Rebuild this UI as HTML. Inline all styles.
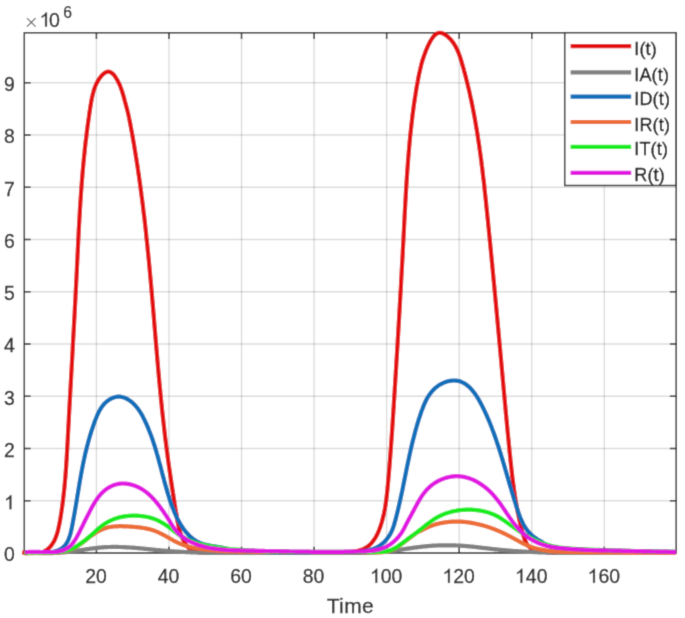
<!DOCTYPE html>
<html><head><meta charset="utf-8"><style>
html,body{margin:0;padding:0;background:#fff;}
svg{display:block;font-family:"Liberation Sans",sans-serif;}
#w{width:685px;height:618px;overflow:hidden;}
</style></head><body>
<div id="w"><svg width="685" height="618" viewBox="0 0 685 618">
<defs><filter id="bl" x="0" y="0" width="685" height="618" filterUnits="userSpaceOnUse"><feConvolveMatrix order="3" kernelMatrix="0.0192 0.1001 0.0192 0.1001 0.5227 0.1001 0.0192 0.1001 0.0192" edgeMode="duplicate" preserveAlpha="true"/></filter></defs>
<g filter="url(#bl)">
<rect width="685" height="618" fill="#fff"/>
<g stroke="#262626" stroke-opacity="0.16" stroke-width="1.35" fill="none"><path d="M96.42,32.7V553.0"/><path d="M168.98,32.7V553.0"/><path d="M241.53,32.7V553.0"/><path d="M314.09,32.7V553.0"/><path d="M386.64,32.7V553.0"/><path d="M459.19,32.7V553.0"/><path d="M531.75,32.7V553.0"/><path d="M604.30,32.7V553.0"/><path d="M24.3,500.75H676.2"/><path d="M24.3,448.50H676.2"/><path d="M24.3,396.25H676.2"/><path d="M24.3,344.00H676.2"/><path d="M24.3,291.75H676.2"/><path d="M24.3,239.50H676.2"/><path d="M24.3,187.25H676.2"/><path d="M24.3,135.00H676.2"/><path d="M24.3,82.75H676.2"/></g>
<path d="M24.3,32.7H676.2V553.0H24.3ZM96.42,553.0v-6.3M96.42,32.7v6.3M168.98,553.0v-6.3M168.98,32.7v6.3M241.53,553.0v-6.3M241.53,32.7v6.3M314.09,553.0v-6.3M314.09,32.7v6.3M386.64,553.0v-6.3M386.64,32.7v6.3M459.19,553.0v-6.3M459.19,32.7v6.3M531.75,553.0v-6.3M531.75,32.7v6.3M604.30,553.0v-6.3M604.30,32.7v6.3M24.3,553.00h6.3M676.2,553.00h-6.3M24.3,500.75h6.3M676.2,500.75h-6.3M24.3,448.50h6.3M676.2,448.50h-6.3M24.3,396.25h6.3M676.2,396.25h-6.3M24.3,344.00h6.3M676.2,344.00h-6.3M24.3,291.75h6.3M676.2,291.75h-6.3M24.3,239.50h6.3M676.2,239.50h-6.3M24.3,187.25h6.3M24.3,135.00h6.3M24.3,82.75h6.3" stroke="#2a2a2a" stroke-width="1.5" fill="none"/>
<path d="M22.2,552.2 L23.1,552.4 L24.0,552.6 L24.9,552.7 L25.7,552.9 L26.5,553.0 L27.4,553.0 L28.2,553.0 L29.3,553.0 L30.5,553.0 L31.6,553.0 L32.7,553.0 L33.8,553.0 L34.8,553.0 L35.8,553.0 L36.8,553.0 L37.7,553.0 L38.6,553.0 L39.5,553.0 L40.4,552.7 L41.2,552.5 L42.0,552.2 L42.8,551.9 L43.6,551.6 L44.3,551.3 L45.0,550.9 L45.9,550.3 L46.8,549.8 L47.7,549.1 L48.5,548.5 L49.2,547.8 L50.0,547.0 L50.6,546.3 L51.3,545.5 L51.9,544.6 L52.5,543.7 L53.1,542.8 L53.5,542.1 L53.9,541.4 L54.3,540.7 L54.6,540.0 L55.0,539.2 L55.3,538.4 L55.6,537.7 L56.0,536.9 L56.2,536.1 L56.5,535.3 L56.8,534.4 L57.1,533.6 L57.3,532.8 L57.6,531.9 L57.8,531.0 L58.0,530.2 L58.2,529.3 L58.4,528.4 L58.6,527.5 L58.8,526.6 L59.0,525.7 L59.2,524.8 L59.4,523.9 L59.6,523.0 L59.7,522.1 L59.9,521.2 L60.1,520.3 L60.2,519.4 L60.4,518.5 L60.5,517.6 L60.7,516.7 L60.8,515.8 L61.0,514.9 L61.1,513.9 L61.2,513.0 L61.4,512.1 L61.5,511.2 L61.6,510.3 L61.8,509.4 L61.9,508.5 L62.0,507.6 L62.2,506.7 L62.3,505.8 L62.4,504.9 L62.5,504.0 L62.6,503.1 L62.8,502.2 L62.9,501.3 L63.0,500.4 L63.1,499.5 L63.2,498.6 L63.3,497.7 L63.4,496.8 L63.5,495.9 L63.6,495.0 L63.7,494.1 L63.8,493.2 L63.9,492.3 L64.0,491.4 L64.1,490.5 L64.2,489.6 L64.3,488.7 L64.4,487.8 L64.5,486.9 L64.6,486.0 L64.6,485.1 L64.7,484.2 L64.8,483.3 L64.9,482.4 L65.0,481.5 L65.0,480.6 L65.1,479.7 L65.2,478.8 L65.3,477.9 L65.4,477.0 L65.4,476.1 L65.5,475.2 L65.6,474.3 L65.6,473.5 L65.7,472.6 L65.8,471.7 L65.8,470.8 L65.9,469.9 L66.0,469.0 L66.0,468.1 L66.1,467.2 L66.2,466.3 L66.2,465.4 L66.3,464.5 L66.3,463.6 L66.4,462.7 L66.4,461.8 L66.5,461.0 L66.6,460.1 L66.6,459.2 L66.7,458.3 L66.7,457.4 L66.8,456.5 L66.8,455.6 L66.9,454.7 L66.9,453.8 L67.0,452.9 L67.0,452.0 L67.1,451.2 L67.1,450.3 L67.2,449.4 L67.2,448.5 L67.3,447.6 L67.3,446.7 L67.4,445.8 L67.4,444.9 L67.5,444.0 L67.5,443.1 L67.6,442.2 L67.6,441.4 L67.7,440.5 L67.7,439.6 L67.8,438.7 L67.8,437.8 L67.9,436.9 L67.9,436.0 L67.9,435.1 L68.0,434.2 L68.0,433.3 L68.1,432.4 L68.1,431.6 L68.2,430.7 L68.2,429.8 L68.3,428.9 L68.3,428.0 L68.4,427.1 L68.4,426.2 L68.5,425.3 L68.5,424.4 L68.6,423.5 L68.6,422.6 L68.7,421.7 L68.7,420.9 L68.8,420.0 L68.8,419.1 L68.8,418.2 L68.9,417.3 L68.9,416.4 L69.0,415.5 L69.0,414.6 L69.1,413.7 L69.1,412.8 L69.2,411.9 L69.2,411.0 L69.3,410.2 L69.3,409.3 L69.4,408.4 L69.4,407.5 L69.5,406.6 L69.5,405.7 L69.6,404.8 L69.6,403.9 L69.7,403.0 L69.7,402.1 L69.8,401.2 L69.8,400.3 L69.9,399.4 L69.9,398.6 L70.0,397.7 L70.0,396.8 L70.1,395.9 L70.1,395.0 L70.2,394.1 L70.2,393.2 L70.3,392.3 L70.3,391.4 L70.4,390.5 L70.4,389.6 L70.5,388.7 L70.5,387.8 L70.6,386.9 L70.6,386.0 L70.7,385.2 L70.7,384.3 L70.8,383.4 L70.8,382.5 L70.9,381.6 L70.9,380.7 L71.0,379.8 L71.0,378.9 L71.1,378.0 L71.1,377.1 L71.2,376.2 L71.2,375.3 L71.3,374.4 L71.3,373.5 L71.4,372.6 L71.4,371.8 L71.5,370.9 L71.5,370.0 L71.6,369.1 L71.6,368.2 L71.7,367.3 L71.7,366.4 L71.8,365.5 L71.8,364.6 L71.9,363.7 L71.9,362.8 L72.0,361.9 L72.0,361.0 L72.1,360.1 L72.1,359.2 L72.2,358.3 L72.2,357.4 L72.3,356.6 L72.3,355.7 L72.4,354.8 L72.4,353.9 L72.5,353.0 L72.5,352.1 L72.6,351.2 L72.6,350.3 L72.7,349.4 L72.7,348.5 L72.7,347.6 L72.8,346.7 L72.8,345.8 L72.9,344.9 L72.9,344.0 L73.0,343.1 L73.0,342.2 L73.1,341.3 L73.1,340.4 L73.2,339.6 L73.2,338.7 L73.3,337.8 L73.3,336.9 L73.4,336.0 L73.4,335.1 L73.5,334.2 L73.5,333.3 L73.6,332.4 L73.6,331.5 L73.7,330.6 L73.7,329.7 L73.8,328.8 L73.8,327.9 L73.9,327.0 L73.9,326.1 L74.0,325.2 L74.0,324.3 L74.1,323.4 L74.1,322.5 L74.2,321.6 L74.2,320.8 L74.3,319.9 L74.3,319.0 L74.4,318.1 L74.4,317.2 L74.5,316.3 L74.5,315.4 L74.6,314.5 L74.6,313.6 L74.7,312.7 L74.7,311.8 L74.7,310.9 L74.8,310.0 L74.8,309.1 L74.9,308.2 L74.9,307.3 L75.0,306.4 L75.0,305.5 L75.1,304.6 L75.1,303.7 L75.2,302.8 L75.2,301.9 L75.3,301.1 L75.3,300.2 L75.4,299.3 L75.4,298.4 L75.5,297.5 L75.5,296.6 L75.5,295.7 L75.6,294.8 L75.6,293.9 L75.7,293.0 L75.7,292.1 L75.8,291.2 L75.8,290.3 L75.9,289.4 L75.9,288.5 L76.0,287.6 L76.0,286.7 L76.1,285.8 L76.1,284.9 L76.1,284.0 L76.2,283.1 L76.2,282.2 L76.3,281.3 L76.3,280.4 L76.4,279.5 L76.4,278.7 L76.5,277.8 L76.5,276.9 L76.5,276.0 L76.6,275.1 L76.6,274.2 L76.7,273.3 L76.7,272.4 L76.8,271.5 L76.8,270.6 L76.9,269.7 L76.9,268.8 L76.9,267.9 L77.0,267.0 L77.0,266.1 L77.1,265.2 L77.1,264.3 L77.2,263.4 L77.2,262.5 L77.2,261.6 L77.3,260.7 L77.3,259.8 L77.4,258.9 L77.4,258.0 L77.5,257.1 L77.5,256.2 L77.5,255.4 L77.6,254.5 L77.6,253.6 L77.7,252.7 L77.7,251.8 L77.8,250.9 L77.8,250.0 L77.8,249.1 L77.9,248.2 L77.9,247.3 L78.0,246.4 L78.0,245.5 L78.1,244.6 L78.1,243.7 L78.2,242.8 L78.2,241.9 L78.2,241.0 L78.3,240.1 L78.3,239.2 L78.4,238.3 L78.4,237.4 L78.5,236.5 L78.5,235.7 L78.6,234.8 L78.6,233.9 L78.6,233.0 L78.7,232.1 L78.7,231.2 L78.8,230.3 L78.8,229.4 L78.9,228.5 L78.9,227.6 L79.0,226.7 L79.0,225.8 L79.1,224.9 L79.1,224.0 L79.2,223.1 L79.2,222.2 L79.3,221.4 L79.3,220.5 L79.4,219.6 L79.4,218.7 L79.5,217.8 L79.5,216.9 L79.6,216.0 L79.6,215.1 L79.7,214.2 L79.7,213.3 L79.8,212.4 L79.8,211.5 L79.9,210.6 L79.9,209.7 L80.0,208.9 L80.0,208.0 L80.1,207.1 L80.2,206.2 L80.2,205.3 L80.3,204.4 L80.3,203.5 L80.4,202.6 L80.4,201.7 L80.5,200.8 L80.6,199.9 L80.6,199.1 L80.7,198.2 L80.7,197.3 L80.8,196.4 L80.9,195.5 L80.9,194.6 L81.0,193.7 L81.0,192.8 L81.1,191.9 L81.2,191.1 L81.2,190.2 L81.3,189.3 L81.4,188.4 L81.4,187.5 L81.5,186.6 L81.6,185.7 L81.6,184.8 L81.7,183.9 L81.8,183.1 L81.8,182.2 L81.9,181.3 L82.0,180.4 L82.0,179.5 L82.1,178.6 L82.2,177.7 L82.3,176.9 L82.3,176.0 L82.4,175.1 L82.5,174.2 L82.5,173.3 L82.6,172.4 L82.7,171.5 L82.8,170.6 L82.9,169.8 L82.9,168.9 L83.0,168.0 L83.1,167.1 L83.2,166.2 L83.3,165.3 L83.3,164.4 L83.4,163.6 L83.5,162.7 L83.6,161.8 L83.7,160.9 L83.8,160.0 L83.8,159.1 L83.9,158.2 L84.0,157.3 L84.1,156.4 L84.2,155.6 L84.3,154.7 L84.4,153.8 L84.5,152.9 L84.6,152.0 L84.7,151.1 L84.7,150.2 L84.8,149.3 L84.9,148.4 L85.0,147.6 L85.1,146.7 L85.2,145.8 L85.3,144.9 L85.4,144.0 L85.5,143.1 L85.6,142.2 L85.7,141.3 L85.8,140.4 L85.9,139.5 L86.1,138.6 L86.2,137.7 L86.3,136.9 L86.4,136.0 L86.5,135.1 L86.6,134.2 L86.7,133.3 L86.8,132.4 L86.9,131.5 L87.0,130.6 L87.2,129.7 L87.3,128.8 L87.4,127.9 L87.5,127.0 L87.6,126.1 L87.7,125.2 L87.9,124.3 L88.0,123.4 L88.1,122.5 L88.2,121.6 L88.3,120.7 L88.5,119.8 L88.6,118.9 L88.7,118.0 L88.9,117.1 L89.0,116.2 L89.1,115.3 L89.2,114.4 L89.4,113.5 L89.5,112.6 L89.6,111.7 L89.8,110.7 L89.9,109.8 L90.1,108.9 L90.2,108.0 L90.3,107.1 L90.5,106.2 L90.6,105.3 L90.8,104.4 L90.9,103.5 L91.1,102.6 L91.2,101.6 L91.4,100.7 L91.6,99.8 L91.7,98.9 L91.9,98.0 L92.1,97.1 L92.3,96.3 L92.5,95.4 L92.7,94.5 L92.9,93.6 L93.2,92.7 L93.4,91.9 L93.6,91.0 L93.9,90.1 L94.2,89.3 L94.5,88.4 L94.8,87.6 L95.1,86.8 L95.4,85.9 L95.8,85.1 L96.1,84.3 L96.5,83.5 L96.9,82.7 L97.3,81.9 L97.7,81.2 L98.2,80.4 L98.6,79.7 L99.1,78.9 L99.6,78.2 L100.2,77.5 L100.7,76.8 L101.3,76.1 L101.8,75.4 L102.4,74.8 L103.1,74.2 L103.7,73.7 L104.5,73.1 L105.4,72.5 L106.3,72.1 L107.1,71.8 L108.0,71.7 L108.9,71.7 L109.8,71.9 L110.7,72.3 L111.6,72.8 L112.3,73.4 L112.9,73.9 L113.5,74.6 L114.2,75.3 L114.8,76.1 L115.4,76.9 L115.9,77.8 L116.5,78.7 L117.0,79.6 L117.6,80.5 L118.0,81.5 L118.5,82.4 L119.0,83.3 L119.4,84.2 L119.8,85.2 L120.2,86.1 L120.5,87.0 L120.9,87.9 L121.2,88.8 L121.5,89.7 L121.9,90.7 L122.2,91.6 L122.4,92.5 L122.7,93.4 L123.0,94.3 L123.2,95.2 L123.5,96.0 L123.7,96.9 L124.0,97.8 L124.2,98.7 L124.4,99.6 L124.7,100.4 L124.9,101.3 L125.1,102.1 L125.4,103.0 L125.6,103.8 L125.8,104.7 L126.1,105.5 L126.3,106.3 L126.5,107.2 L126.7,108.0 L127.0,108.8 L127.2,109.7 L127.4,110.5 L127.6,111.3 L127.8,112.2 L128.0,113.0 L128.2,113.9 L128.4,114.8 L128.6,115.6 L128.8,116.5 L129.0,117.4 L129.2,118.2 L129.3,119.1 L129.5,120.0 L129.7,120.9 L129.8,121.7 L130.0,122.6 L130.2,123.5 L130.4,124.4 L130.5,125.3 L130.7,126.2 L130.9,127.0 L131.0,127.9 L131.2,128.8 L131.3,129.7 L131.5,130.6 L131.7,131.5 L131.8,132.3 L132.0,133.2 L132.2,134.1 L132.3,135.0 L132.5,135.9 L132.6,136.8 L132.8,137.7 L132.9,138.5 L133.1,139.4 L133.2,140.3 L133.4,141.2 L133.6,142.1 L133.7,143.0 L133.9,143.8 L134.0,144.7 L134.2,145.6 L134.3,146.5 L134.5,147.4 L134.6,148.3 L134.7,149.2 L134.9,150.0 L135.0,150.9 L135.2,151.8 L135.3,152.7 L135.5,153.6 L135.6,154.5 L135.8,155.4 L135.9,156.2 L136.0,157.1 L136.2,158.0 L136.3,158.9 L136.5,159.8 L136.6,160.7 L136.7,161.6 L136.9,162.4 L137.0,163.3 L137.2,164.2 L137.3,165.1 L137.4,166.0 L137.6,166.9 L137.7,167.8 L137.8,168.6 L138.0,169.5 L138.1,170.4 L138.2,171.3 L138.3,172.2 L138.5,173.1 L138.6,174.0 L138.7,174.8 L138.9,175.7 L139.0,176.6 L139.1,177.5 L139.2,178.4 L139.4,179.3 L139.5,180.2 L139.6,181.1 L139.7,181.9 L139.9,182.8 L140.0,183.7 L140.1,184.6 L140.2,185.5 L140.4,186.4 L140.5,187.3 L140.6,188.2 L140.7,189.0 L140.8,189.9 L140.9,190.8 L141.1,191.7 L141.2,192.6 L141.3,193.5 L141.4,194.4 L141.5,195.3 L141.6,196.1 L141.8,197.0 L141.9,197.9 L142.0,198.8 L142.1,199.7 L142.2,200.6 L142.3,201.5 L142.4,202.4 L142.6,203.3 L142.7,204.1 L142.8,205.0 L142.9,205.9 L143.0,206.8 L143.1,207.7 L143.2,208.6 L143.3,209.5 L143.4,210.4 L143.5,211.2 L143.6,212.1 L143.7,213.0 L143.8,213.9 L144.0,214.8 L144.1,215.7 L144.2,216.6 L144.3,217.5 L144.4,218.4 L144.5,219.3 L144.6,220.1 L144.7,221.0 L144.8,221.9 L144.9,222.8 L145.0,223.7 L145.1,224.6 L145.2,225.5 L145.3,226.4 L145.4,227.3 L145.5,228.1 L145.6,229.0 L145.7,229.9 L145.8,230.8 L145.9,231.7 L146.0,232.6 L146.1,233.5 L146.2,234.4 L146.2,235.3 L146.3,236.2 L146.4,237.0 L146.5,237.9 L146.6,238.8 L146.7,239.7 L146.8,240.6 L146.9,241.5 L147.0,242.4 L147.1,243.3 L147.2,244.2 L147.3,245.1 L147.4,245.9 L147.5,246.8 L147.5,247.7 L147.6,248.6 L147.7,249.5 L147.8,250.4 L147.9,251.3 L148.0,252.2 L148.1,253.1 L148.2,254.0 L148.3,254.9 L148.3,255.7 L148.4,256.6 L148.5,257.5 L148.6,258.4 L148.7,259.3 L148.8,260.2 L148.9,261.1 L149.0,262.0 L149.0,262.9 L149.1,263.8 L149.2,264.7 L149.3,265.5 L149.4,266.4 L149.5,267.3 L149.5,268.2 L149.6,269.1 L149.7,270.0 L149.8,270.9 L149.9,271.8 L150.0,272.7 L150.0,273.6 L150.1,274.5 L150.2,275.4 L150.3,276.2 L150.4,277.1 L150.4,278.0 L150.5,278.9 L150.6,279.8 L150.7,280.7 L150.8,281.6 L150.8,282.5 L150.9,283.4 L151.0,284.3 L151.1,285.2 L151.2,286.1 L151.2,286.9 L151.3,287.8 L151.4,288.7 L151.5,289.6 L151.6,290.5 L151.6,291.4 L151.7,292.3 L151.8,293.2 L151.9,294.1 L151.9,295.0 L152.0,295.9 L152.1,296.8 L152.2,297.7 L152.2,298.5 L152.3,299.4 L152.4,300.3 L152.5,301.2 L152.6,302.1 L152.6,303.0 L152.7,303.9 L152.8,304.8 L152.9,305.7 L152.9,306.6 L153.0,307.5 L153.1,308.4 L153.2,309.3 L153.2,310.2 L153.3,311.0 L153.4,311.9 L153.5,312.8 L153.5,313.7 L153.6,314.6 L153.7,315.5 L153.8,316.4 L153.8,317.3 L153.9,318.2 L154.0,319.1 L154.1,320.0 L154.1,320.9 L154.2,321.8 L154.3,322.7 L154.3,323.5 L154.4,324.4 L154.5,325.3 L154.6,326.2 L154.6,327.1 L154.7,328.0 L154.8,328.9 L154.9,329.8 L154.9,330.7 L155.0,331.6 L155.1,332.5 L155.2,333.4 L155.2,334.3 L155.3,335.2 L155.4,336.0 L155.5,336.9 L155.5,337.8 L155.6,338.7 L155.7,339.6 L155.8,340.5 L155.8,341.4 L155.9,342.3 L156.0,343.2 L156.1,344.1 L156.1,345.0 L156.2,345.9 L156.3,346.8 L156.4,347.7 L156.4,348.5 L156.5,349.4 L156.6,350.3 L156.7,351.2 L156.7,352.1 L156.8,353.0 L156.9,353.9 L157.0,354.8 L157.0,355.7 L157.1,356.6 L157.2,357.5 L157.3,358.4 L157.3,359.3 L157.4,360.2 L157.5,361.0 L157.6,361.9 L157.7,362.8 L157.7,363.7 L157.8,364.6 L157.9,365.5 L158.0,366.4 L158.0,367.3 L158.1,368.2 L158.2,369.1 L158.3,370.0 L158.4,370.9 L158.4,371.8 L158.5,372.6 L158.6,373.5 L158.7,374.4 L158.8,375.3 L158.8,376.2 L158.9,377.1 L159.0,378.0 L159.1,378.9 L159.2,379.8 L159.2,380.7 L159.3,381.6 L159.4,382.5 L159.5,383.4 L159.6,384.2 L159.7,385.1 L159.7,386.0 L159.8,386.9 L159.9,387.8 L160.0,388.7 L160.1,389.6 L160.2,390.5 L160.3,391.4 L160.3,392.3 L160.4,393.2 L160.5,394.0 L160.6,394.9 L160.7,395.8 L160.8,396.7 L160.9,397.6 L160.9,398.5 L161.0,399.4 L161.1,400.3 L161.2,401.2 L161.3,402.1 L161.4,403.0 L161.5,403.9 L161.6,404.7 L161.7,405.6 L161.8,406.5 L161.8,407.4 L161.9,408.3 L162.0,409.2 L162.1,410.1 L162.2,411.0 L162.3,411.9 L162.4,412.8 L162.5,413.6 L162.6,414.5 L162.7,415.4 L162.8,416.3 L162.9,417.2 L163.0,418.1 L163.1,419.0 L163.2,419.9 L163.3,420.8 L163.4,421.7 L163.5,422.5 L163.6,423.4 L163.7,424.3 L163.8,425.2 L163.9,426.1 L164.0,427.0 L164.1,427.9 L164.2,428.8 L164.3,429.7 L164.4,430.5 L164.5,431.4 L164.6,432.3 L164.7,433.2 L164.8,434.1 L164.9,435.0 L165.0,435.9 L165.1,436.8 L165.2,437.7 L165.3,438.5 L165.4,439.4 L165.5,440.3 L165.7,441.2 L165.8,442.1 L165.9,443.0 L166.0,443.9 L166.1,444.8 L166.2,445.6 L166.3,446.5 L166.4,447.4 L166.6,448.3 L166.7,449.2 L166.8,450.1 L166.9,451.0 L167.0,451.9 L167.1,452.7 L167.3,453.6 L167.4,454.5 L167.5,455.4 L167.6,456.3 L167.7,457.2 L167.9,458.1 L168.0,459.0 L168.1,459.8 L168.2,460.7 L168.3,461.6 L168.5,462.5 L168.6,463.4 L168.7,464.3 L168.8,465.2 L169.0,466.0 L169.1,466.9 L169.2,467.8 L169.3,468.7 L169.5,469.6 L169.6,470.5 L169.7,471.4 L169.9,472.2 L170.0,473.1 L170.1,474.0 L170.2,474.9 L170.4,475.8 L170.5,476.7 L170.6,477.6 L170.8,478.4 L170.9,479.3 L171.0,480.2 L171.2,481.1 L171.3,482.0 L171.4,482.9 L171.6,483.8 L171.7,484.6 L171.8,485.5 L172.0,486.4 L172.1,487.3 L172.2,488.2 L172.4,489.1 L172.5,490.0 L172.6,490.8 L172.8,491.7 L172.9,492.6 L173.1,493.5 L173.2,494.4 L173.3,495.3 L173.5,496.2 L173.6,497.1 L173.7,497.9 L173.9,498.8 L174.0,499.7 L174.2,500.6 L174.3,501.5 L174.4,502.4 L174.6,503.3 L174.7,504.1 L174.9,505.0 L175.0,505.9 L175.2,506.8 L175.3,507.7 L175.4,508.6 L175.6,509.5 L175.7,510.4 L175.9,511.2 L176.0,512.1 L176.2,513.0 L176.3,513.9 L176.4,514.8 L176.6,515.7 L176.7,516.6 L176.9,517.5 L177.0,518.3 L177.2,519.2 L177.3,520.1 L177.5,521.0 L177.7,521.9 L177.8,522.8 L178.0,523.6 L178.2,524.5 L178.4,525.4 L178.6,526.3 L178.8,527.1 L179.0,528.0 L179.2,528.9 L179.5,529.7 L179.7,530.6 L180.0,531.5 L180.2,532.3 L180.5,533.2 L180.8,534.0 L181.1,534.8 L181.4,535.7 L181.7,536.5 L182.1,537.3 L182.4,538.2 L182.8,539.0 L183.2,539.8 L183.6,540.6 L184.0,541.4 L184.4,542.2 L184.9,543.0 L185.3,543.7 L185.8,544.5 L186.3,545.2 L186.9,545.9 L187.4,546.6 L188.0,547.2 L188.6,547.8 L189.2,548.4 L189.8,548.9 L190.5,549.4 L191.1,549.9 L191.8,550.3 L192.6,550.7 L193.3,551.0 L194.1,551.3 L194.9,551.6 L195.7,551.8 L196.5,552.0 L197.4,552.1 L198.2,552.2 L199.1,552.3 L200.0,552.4 L200.9,552.5 L201.8,552.5 L202.7,552.6 L203.6,552.6 L204.5,552.6 L205.4,552.6 L206.3,552.7 L207.2,552.7 L208.1,552.7 L209.0,552.7 L209.9,552.8 L210.8,552.8 L211.7,552.8 L212.6,552.8 L213.5,552.8 L214.4,552.8 L215.3,552.9 L216.3,552.9 L217.2,552.9 L218.1,552.9 L219.0,552.9 L219.9,552.9 L220.8,552.9 L221.7,553.0 L222.6,553.0 L223.5,553.0 L224.4,553.0 L225.3,553.0 L226.2,553.0 L227.1,553.0 L228.0,553.0 L228.9,553.0 L229.8,553.0 L230.7,553.0 L231.6,553.0 L232.5,553.0 L233.4,553.0 L234.3,553.0 L235.2,553.0 L236.1,553.0 L237.0,553.0 L237.9,553.0 L238.8,553.0 L239.7,553.0 L240.6,553.0 L241.5,553.0 L242.4,553.0 L243.3,553.0 L244.2,553.0 L245.1,553.0 L246.0,553.0 L246.9,553.0 L247.8,553.0 L248.7,553.0 L249.6,553.0 L250.5,553.0 L251.4,553.0 L252.3,553.0 L253.2,553.0 L254.1,553.0 L255.0,553.0 L255.9,553.0 L256.8,553.0 L257.7,553.0 L258.6,553.0 L259.5,553.0 L260.3,553.0 L261.2,553.0 L262.1,553.0 L263.0,553.0 L263.9,553.0 L264.8,553.0 L265.7,553.0 L266.6,553.0 L267.5,553.0 L268.4,553.0 L269.3,553.0 L270.2,553.0 L271.1,553.0 L272.0,553.0 L272.9,553.0 L273.8,553.0 L274.7,553.0 L275.5,553.0 L276.4,553.0 L277.3,553.0 L278.2,553.0 L279.1,553.0 L280.0,553.0 L280.9,552.9 L281.8,552.9 L282.7,552.9 L283.6,552.9 L284.5,552.9 L285.4,552.9 L286.2,552.9 L287.1,552.9 L288.0,552.9 L288.9,552.9 L289.8,552.9 L290.7,552.9 L291.6,552.9 L292.5,552.9 L293.4,552.9 L294.3,552.9 L295.1,552.9 L296.0,552.9 L296.9,552.8 L297.8,552.8 L298.7,552.8 L299.6,552.8 L300.5,552.8 L301.4,552.8 L302.3,552.8 L303.1,552.8 L304.0,552.8 L304.9,552.8 L305.8,552.8 L306.7,552.8 L307.6,552.8 L308.5,552.8 L309.4,552.8 L310.3,552.8 L311.1,552.8 L312.0,552.8 L312.9,552.8 L313.8,552.8 L314.7,552.8 L315.6,552.8 L316.5,552.8 L317.4,552.7 L318.3,552.7 L319.2,552.7 L320.1,552.7 L321.0,552.7 L321.9,552.7 L322.8,552.7 L323.7,552.7 L324.6,552.7 L325.5,552.7 L326.4,552.7 L327.3,552.7 L328.2,552.7 L329.1,552.6 L330.0,552.6 L331.0,552.6 L331.9,552.6 L332.8,552.6 L333.7,552.6 L334.6,552.6 L335.6,552.5 L336.5,552.5 L337.4,552.5 L338.3,552.5 L339.3,552.5 L340.2,552.5 L341.1,552.4 L342.1,552.4 L343.0,552.4 L343.9,552.4 L344.9,552.3 L345.8,552.3 L346.7,552.2 L347.7,552.2 L348.6,552.1 L349.5,552.0 L350.4,552.0 L351.3,551.9 L352.2,551.8 L353.1,551.6 L354.0,551.5 L354.9,551.4 L355.8,551.2 L356.6,551.1 L357.5,550.9 L358.3,550.7 L359.2,550.4 L360.0,550.2 L360.8,549.9 L361.6,549.7 L362.4,549.4 L363.2,549.1 L363.9,548.7 L364.7,548.3 L365.4,548.0 L366.1,547.5 L366.8,547.1 L367.5,546.6 L368.1,546.2 L368.8,545.6 L369.4,545.1 L370.0,544.5 L370.6,544.0 L371.2,543.4 L371.8,542.7 L372.3,542.1 L372.8,541.4 L373.3,540.7 L373.8,540.0 L374.3,539.3 L374.8,538.6 L375.3,537.8 L375.7,537.1 L376.2,536.3 L376.6,535.5 L377.0,534.7 L377.4,533.9 L377.8,533.1 L378.2,532.2 L378.5,531.4 L378.9,530.5 L379.2,529.7 L379.5,528.8 L379.9,528.0 L380.2,527.1 L380.5,526.2 L380.8,525.3 L381.1,524.4 L381.3,523.5 L381.6,522.7 L381.9,521.8 L382.1,520.9 L382.4,520.0 L382.6,519.1 L382.8,518.2 L383.0,517.3 L383.3,516.4 L383.5,515.6 L383.7,514.7 L383.9,513.8 L384.1,512.9 L384.2,512.0 L384.4,511.1 L384.6,510.2 L384.8,509.4 L384.9,508.5 L385.1,507.6 L385.2,506.7 L385.4,505.8 L385.5,504.9 L385.6,504.0 L385.8,503.2 L385.9,502.3 L386.0,501.4 L386.2,500.5 L386.3,499.6 L386.4,498.7 L386.5,497.8 L386.6,496.9 L386.7,496.1 L386.8,495.2 L386.9,494.3 L387.0,493.4 L387.1,492.5 L387.2,491.6 L387.3,490.7 L387.4,489.9 L387.5,489.0 L387.5,488.1 L387.6,487.2 L387.7,486.3 L387.8,485.4 L387.9,484.5 L388.0,483.7 L388.0,482.8 L388.1,481.9 L388.2,481.0 L388.3,480.1 L388.4,479.2 L388.4,478.3 L388.5,477.4 L388.6,476.5 L388.7,475.7 L388.8,474.8 L388.8,473.9 L388.9,473.0 L389.0,472.1 L389.1,471.2 L389.1,470.3 L389.2,469.4 L389.3,468.5 L389.4,467.7 L389.4,466.8 L389.5,465.9 L389.6,465.0 L389.6,464.1 L389.7,463.2 L389.8,462.3 L389.9,461.4 L389.9,460.5 L390.0,459.6 L390.1,458.8 L390.1,457.9 L390.2,457.0 L390.3,456.1 L390.3,455.2 L390.4,454.3 L390.5,453.4 L390.5,452.5 L390.6,451.6 L390.7,450.7 L390.7,449.8 L390.8,448.9 L390.9,448.1 L390.9,447.2 L391.0,446.3 L391.1,445.4 L391.1,444.5 L391.2,443.6 L391.3,442.7 L391.3,441.8 L391.4,440.9 L391.5,440.0 L391.5,439.1 L391.6,438.2 L391.6,437.3 L391.7,436.5 L391.8,435.6 L391.8,434.7 L391.9,433.8 L392.0,432.9 L392.0,432.0 L392.1,431.1 L392.1,430.2 L392.2,429.3 L392.3,428.4 L392.3,427.5 L392.4,426.6 L392.4,425.7 L392.5,424.8 L392.6,423.9 L392.6,423.1 L392.7,422.2 L392.7,421.3 L392.8,420.4 L392.8,419.5 L392.9,418.6 L393.0,417.7 L393.0,416.8 L393.1,415.9 L393.1,415.0 L393.2,414.1 L393.3,413.2 L393.3,412.3 L393.4,411.4 L393.4,410.5 L393.5,409.6 L393.5,408.7 L393.6,407.9 L393.7,407.0 L393.7,406.1 L393.8,405.2 L393.8,404.3 L393.9,403.4 L393.9,402.5 L394.0,401.6 L394.0,400.7 L394.1,399.8 L394.2,398.9 L394.2,398.0 L394.3,397.1 L394.3,396.2 L394.4,395.3 L394.4,394.4 L394.5,393.5 L394.6,392.6 L394.6,391.7 L394.7,390.9 L394.7,390.0 L394.8,389.1 L394.8,388.2 L394.9,387.3 L394.9,386.4 L395.0,385.5 L395.1,384.6 L395.1,383.7 L395.2,382.8 L395.2,381.9 L395.3,381.0 L395.3,380.1 L395.4,379.2 L395.4,378.3 L395.5,377.4 L395.6,376.5 L395.6,375.6 L395.7,374.8 L395.7,373.9 L395.8,373.0 L395.8,372.1 L395.9,371.2 L395.9,370.3 L396.0,369.4 L396.1,368.5 L396.1,367.6 L396.2,366.7 L396.2,365.8 L396.3,364.9 L396.3,364.0 L396.4,363.1 L396.4,362.2 L396.5,361.3 L396.5,360.4 L396.6,359.5 L396.7,358.6 L396.7,357.8 L396.8,356.9 L396.8,356.0 L396.9,355.1 L396.9,354.2 L397.0,353.3 L397.0,352.4 L397.1,351.5 L397.1,350.6 L397.2,349.7 L397.3,348.8 L397.3,347.9 L397.4,347.0 L397.4,346.1 L397.5,345.2 L397.5,344.3 L397.6,343.4 L397.6,342.5 L397.7,341.7 L397.7,340.8 L397.8,339.9 L397.8,339.0 L397.9,338.1 L397.9,337.2 L398.0,336.3 L398.1,335.4 L398.1,334.5 L398.2,333.6 L398.2,332.7 L398.3,331.8 L398.3,330.9 L398.4,330.0 L398.4,329.1 L398.5,328.2 L398.5,327.3 L398.6,326.4 L398.6,325.6 L398.7,324.7 L398.7,323.8 L398.8,322.9 L398.8,322.0 L398.9,321.1 L399.0,320.2 L399.0,319.3 L399.1,318.4 L399.1,317.5 L399.2,316.6 L399.2,315.7 L399.3,314.8 L399.3,313.9 L399.4,313.0 L399.4,312.1 L399.5,311.2 L399.5,310.3 L399.6,309.5 L399.6,308.6 L399.7,307.7 L399.7,306.8 L399.8,305.9 L399.8,305.0 L399.9,304.1 L399.9,303.2 L400.0,302.3 L400.0,301.4 L400.1,300.5 L400.1,299.6 L400.2,298.7 L400.2,297.8 L400.3,296.9 L400.3,296.0 L400.4,295.1 L400.4,294.3 L400.5,293.4 L400.5,292.5 L400.6,291.6 L400.6,290.7 L400.7,289.8 L400.8,288.9 L400.8,288.0 L400.9,287.1 L400.9,286.2 L401.0,285.3 L401.0,284.4 L401.1,283.5 L401.1,282.6 L401.1,281.7 L401.2,280.8 L401.2,280.0 L401.3,279.1 L401.3,278.2 L401.4,277.3 L401.4,276.4 L401.5,275.5 L401.5,274.6 L401.6,273.7 L401.6,272.8 L401.7,271.9 L401.7,271.0 L401.8,270.1 L401.8,269.2 L401.9,268.3 L401.9,267.4 L402.0,266.5 L402.0,265.7 L402.1,264.8 L402.1,263.9 L402.2,263.0 L402.2,262.1 L402.3,261.2 L402.3,260.3 L402.4,259.4 L402.4,258.5 L402.5,257.6 L402.5,256.7 L402.6,255.8 L402.6,254.9 L402.7,254.0 L402.7,253.1 L402.8,252.3 L402.8,251.4 L402.8,250.5 L402.9,249.6 L402.9,248.7 L403.0,247.8 L403.0,246.9 L403.1,246.0 L403.1,245.1 L403.2,244.2 L403.2,243.3 L403.3,242.4 L403.3,241.5 L403.4,240.6 L403.4,239.7 L403.5,238.9 L403.5,238.0 L403.5,237.1 L403.6,236.2 L403.6,235.3 L403.7,234.4 L403.7,233.5 L403.8,232.6 L403.8,231.7 L403.9,230.8 L403.9,229.9 L404.0,229.0 L404.0,228.1 L404.0,227.2 L404.1,226.4 L404.1,225.5 L404.2,224.6 L404.2,223.7 L404.3,222.8 L404.3,221.9 L404.4,221.0 L404.4,220.1 L404.5,219.2 L404.5,218.3 L404.6,217.4 L404.6,216.5 L404.6,215.6 L404.7,214.7 L404.7,213.8 L404.8,213.0 L404.8,212.1 L404.9,211.2 L404.9,210.3 L405.0,209.4 L405.0,208.5 L405.1,207.6 L405.1,206.7 L405.2,205.8 L405.2,204.9 L405.3,204.0 L405.3,203.1 L405.4,202.2 L405.4,201.3 L405.5,200.5 L405.5,199.6 L405.6,198.7 L405.6,197.8 L405.7,196.9 L405.7,196.0 L405.8,195.1 L405.8,194.2 L405.9,193.3 L405.9,192.4 L406.0,191.5 L406.0,190.6 L406.1,189.7 L406.1,188.8 L406.2,187.9 L406.3,187.0 L406.3,186.1 L406.4,185.3 L406.4,184.4 L406.5,183.5 L406.5,182.6 L406.6,181.7 L406.6,180.8 L406.7,179.9 L406.8,179.0 L406.8,178.1 L406.9,177.2 L406.9,176.3 L407.0,175.4 L407.1,174.5 L407.1,173.6 L407.2,172.7 L407.2,171.8 L407.3,170.9 L407.4,170.0 L407.4,169.1 L407.5,168.3 L407.6,167.4 L407.6,166.5 L407.7,165.6 L407.8,164.7 L407.8,163.8 L407.9,162.9 L408.0,162.0 L408.0,161.1 L408.1,160.2 L408.2,159.3 L408.2,158.4 L408.3,157.5 L408.4,156.6 L408.5,155.7 L408.5,154.8 L408.6,153.9 L408.7,153.0 L408.7,152.1 L408.8,151.2 L408.9,150.3 L409.0,149.4 L409.1,148.5 L409.1,147.6 L409.2,146.7 L409.3,145.8 L409.4,144.9 L409.5,144.0 L409.5,143.1 L409.6,142.2 L409.7,141.3 L409.8,140.5 L409.9,139.6 L410.0,138.7 L410.0,137.8 L410.1,136.9 L410.2,136.0 L410.3,135.1 L410.4,134.2 L410.5,133.3 L410.6,132.4 L410.7,131.5 L410.8,130.6 L410.9,129.7 L411.0,128.8 L411.1,127.9 L411.2,127.0 L411.3,126.1 L411.4,125.2 L411.5,124.3 L411.6,123.4 L411.7,122.6 L411.8,121.7 L411.9,120.8 L412.0,119.9 L412.1,119.0 L412.2,118.1 L412.3,117.2 L412.4,116.3 L412.5,115.4 L412.6,114.5 L412.7,113.7 L412.9,112.8 L413.0,111.9 L413.1,111.0 L413.2,110.1 L413.3,109.2 L413.4,108.3 L413.6,107.5 L413.7,106.6 L413.8,105.7 L413.9,104.8 L414.0,103.9 L414.2,103.0 L414.3,102.2 L414.4,101.3 L414.6,100.4 L414.7,99.5 L414.8,98.6 L415.0,97.8 L415.1,96.9 L415.2,96.0 L415.4,95.1 L415.5,94.3 L415.6,93.4 L415.8,92.5 L415.9,91.7 L416.1,90.8 L416.2,89.9 L416.3,89.0 L416.5,88.2 L416.6,87.3 L416.8,86.4 L416.9,85.6 L417.1,84.7 L417.3,83.9 L417.4,83.0 L417.6,82.1 L417.7,81.3 L417.9,80.4 L418.0,79.6 L418.2,78.7 L418.4,77.8 L418.5,77.0 L418.7,76.1 L418.9,75.3 L419.0,74.4 L419.2,73.6 L419.4,72.7 L419.6,71.9 L419.8,71.0 L420.0,70.1 L420.2,69.3 L420.4,68.4 L420.6,67.6 L420.8,66.7 L421.0,65.9 L421.2,65.0 L421.4,64.1 L421.7,63.3 L421.9,62.4 L422.2,61.5 L422.4,60.6 L422.7,59.8 L423.0,58.9 L423.3,58.0 L423.6,57.1 L423.9,56.2 L424.2,55.3 L424.5,54.5 L424.8,53.6 L425.2,52.7 L425.5,51.7 L425.9,50.8 L426.2,49.9 L426.6,49.0 L427.0,48.1 L427.4,47.1 L427.8,46.2 L428.3,45.3 L428.7,44.3 L429.2,43.4 L429.7,42.5 L430.1,41.6 L430.6,40.7 L431.2,39.8 L431.7,39.0 L432.2,38.2 L432.8,37.4 L433.3,36.7 L433.9,36.0 L434.5,35.4 L435.1,34.8 L435.9,34.2 L436.8,33.6 L437.7,33.2 L438.6,33.0 L439.5,32.8 L440.5,32.9 L441.4,33.0 L442.4,33.3 L443.4,33.7 L444.1,34.1 L444.9,34.5 L445.6,35.0 L446.3,35.5 L447.0,36.0 L447.7,36.6 L448.4,37.2 L449.1,37.9 L449.8,38.6 L450.4,39.2 L451.0,39.9 L451.6,40.6 L452.2,41.4 L452.7,42.1 L453.3,42.8 L453.8,43.6 L454.3,44.4 L454.8,45.1 L455.2,45.9 L455.7,46.7 L456.1,47.5 L456.5,48.3 L456.9,49.1 L457.3,49.9 L457.6,50.7 L458.0,51.5 L458.3,52.4 L458.7,53.2 L459.0,54.0 L459.3,54.9 L459.6,55.7 L459.9,56.6 L460.2,57.4 L460.5,58.3 L460.7,59.2 L461.0,60.0 L461.3,60.9 L461.5,61.8 L461.8,62.6 L462.0,63.5 L462.3,64.4 L462.5,65.2 L462.8,66.1 L463.0,67.0 L463.3,67.8 L463.5,68.7 L463.8,69.6 L464.0,70.5 L464.2,71.3 L464.5,72.2 L464.7,73.1 L464.9,73.9 L465.2,74.8 L465.4,75.7 L465.6,76.5 L465.9,77.4 L466.1,78.3 L466.3,79.2 L466.5,80.0 L466.7,80.9 L467.0,81.8 L467.2,82.7 L467.4,83.5 L467.6,84.4 L467.8,85.3 L468.0,86.2 L468.2,87.0 L468.4,87.9 L468.7,88.8 L468.9,89.7 L469.1,90.5 L469.3,91.4 L469.5,92.3 L469.7,93.2 L469.9,94.0 L470.0,94.9 L470.2,95.8 L470.4,96.7 L470.6,97.5 L470.8,98.4 L471.0,99.3 L471.2,100.2 L471.4,101.1 L471.6,101.9 L471.7,102.8 L471.9,103.7 L472.1,104.6 L472.3,105.4 L472.5,106.3 L472.6,107.2 L472.8,108.1 L473.0,109.0 L473.2,109.8 L473.3,110.7 L473.5,111.6 L473.7,112.5 L473.8,113.4 L474.0,114.2 L474.2,115.1 L474.3,116.0 L474.5,116.9 L474.6,117.8 L474.8,118.6 L475.0,119.5 L475.1,120.4 L475.3,121.3 L475.4,122.2 L475.6,123.1 L475.7,123.9 L475.9,124.8 L476.0,125.7 L476.2,126.6 L476.3,127.5 L476.5,128.4 L476.6,129.2 L476.8,130.1 L476.9,131.0 L477.1,131.9 L477.2,132.8 L477.4,133.7 L477.5,134.5 L477.6,135.4 L477.8,136.3 L477.9,137.2 L478.0,138.1 L478.2,139.0 L478.3,139.8 L478.4,140.7 L478.6,141.6 L478.7,142.5 L478.8,143.4 L479.0,144.3 L479.1,145.2 L479.2,146.0 L479.4,146.9 L479.5,147.8 L479.6,148.7 L479.7,149.6 L479.9,150.5 L480.0,151.4 L480.1,152.2 L480.2,153.1 L480.3,154.0 L480.5,154.9 L480.6,155.8 L480.7,156.7 L480.8,157.6 L480.9,158.5 L481.1,159.3 L481.2,160.2 L481.3,161.1 L481.4,162.0 L481.5,162.9 L481.6,163.8 L481.7,164.7 L481.8,165.6 L482.0,166.4 L482.1,167.3 L482.2,168.2 L482.3,169.1 L482.4,170.0 L482.5,170.9 L482.6,171.8 L482.7,172.7 L482.8,173.6 L482.9,174.4 L483.0,175.3 L483.1,176.2 L483.2,177.1 L483.3,178.0 L483.4,178.9 L483.6,179.8 L483.7,180.7 L483.8,181.6 L483.9,182.4 L484.0,183.3 L484.1,184.2 L484.2,185.1 L484.3,186.0 L484.4,186.9 L484.4,187.8 L484.5,188.7 L484.6,189.6 L484.7,190.5 L484.8,191.3 L484.9,192.2 L485.0,193.1 L485.1,194.0 L485.2,194.9 L485.3,195.8 L485.4,196.7 L485.5,197.6 L485.6,198.5 L485.7,199.4 L485.8,200.2 L485.9,201.1 L486.0,202.0 L486.1,202.9 L486.2,203.8 L486.2,204.7 L486.3,205.6 L486.4,206.5 L486.5,207.4 L486.6,208.3 L486.7,209.2 L486.8,210.0 L486.9,210.9 L487.0,211.8 L487.1,212.7 L487.2,213.6 L487.2,214.5 L487.3,215.4 L487.4,216.3 L487.5,217.2 L487.6,218.1 L487.7,219.0 L487.8,219.8 L487.9,220.7 L488.0,221.6 L488.1,222.5 L488.1,223.4 L488.2,224.3 L488.3,225.2 L488.4,226.1 L488.5,227.0 L488.6,227.9 L488.7,228.8 L488.8,229.6 L488.9,230.5 L488.9,231.4 L489.0,232.3 L489.1,233.2 L489.2,234.1 L489.3,235.0 L489.4,235.9 L489.5,236.8 L489.6,237.7 L489.7,238.6 L489.7,239.4 L489.8,240.3 L489.9,241.2 L490.0,242.1 L490.1,243.0 L490.2,243.9 L490.3,244.8 L490.4,245.7 L490.4,246.6 L490.5,247.5 L490.6,248.4 L490.7,249.2 L490.8,250.1 L490.9,251.0 L491.0,251.9 L491.0,252.8 L491.1,253.7 L491.2,254.6 L491.3,255.5 L491.4,256.4 L491.5,257.3 L491.6,258.2 L491.7,259.1 L491.7,259.9 L491.8,260.8 L491.9,261.7 L492.0,262.6 L492.1,263.5 L492.2,264.4 L492.3,265.3 L492.3,266.2 L492.4,267.1 L492.5,268.0 L492.6,268.9 L492.7,269.7 L492.8,270.6 L492.9,271.5 L492.9,272.4 L493.0,273.3 L493.1,274.2 L493.2,275.1 L493.3,276.0 L493.4,276.9 L493.4,277.8 L493.5,278.7 L493.6,279.6 L493.7,280.4 L493.8,281.3 L493.9,282.2 L494.0,283.1 L494.0,284.0 L494.1,284.9 L494.2,285.8 L494.3,286.7 L494.4,287.6 L494.5,288.5 L494.5,289.4 L494.6,290.2 L494.7,291.1 L494.8,292.0 L494.9,292.9 L495.0,293.8 L495.0,294.7 L495.1,295.6 L495.2,296.5 L495.3,297.4 L495.4,298.3 L495.5,299.2 L495.5,300.1 L495.6,300.9 L495.7,301.8 L495.8,302.7 L495.9,303.6 L496.0,304.5 L496.0,305.4 L496.1,306.3 L496.2,307.2 L496.3,308.1 L496.4,309.0 L496.5,309.9 L496.5,310.8 L496.6,311.6 L496.7,312.5 L496.8,313.4 L496.9,314.3 L497.0,315.2 L497.0,316.1 L497.1,317.0 L497.2,317.9 L497.3,318.8 L497.4,319.7 L497.5,320.6 L497.5,321.5 L497.6,322.4 L497.7,323.2 L497.8,324.1 L497.9,325.0 L497.9,325.9 L498.0,326.8 L498.1,327.7 L498.2,328.6 L498.3,329.5 L498.4,330.4 L498.4,331.3 L498.5,332.2 L498.6,333.1 L498.7,333.9 L498.8,334.8 L498.9,335.7 L498.9,336.6 L499.0,337.5 L499.1,338.4 L499.2,339.3 L499.3,340.2 L499.3,341.1 L499.4,342.0 L499.5,342.9 L499.6,343.8 L499.7,344.7 L499.8,345.5 L499.8,346.4 L499.9,347.3 L500.0,348.2 L500.1,349.1 L500.2,350.0 L500.2,350.9 L500.3,351.8 L500.4,352.7 L500.5,353.6 L500.6,354.5 L500.6,355.4 L500.7,356.3 L500.8,357.1 L500.9,358.0 L501.0,358.9 L501.1,359.8 L501.1,360.7 L501.2,361.6 L501.3,362.5 L501.4,363.4 L501.5,364.3 L501.5,365.2 L501.6,366.1 L501.7,367.0 L501.8,367.9 L501.9,368.7 L501.9,369.6 L502.0,370.5 L502.1,371.4 L502.2,372.3 L502.3,373.2 L502.3,374.1 L502.4,375.0 L502.5,375.9 L502.6,376.8 L502.7,377.7 L502.8,378.6 L502.8,379.5 L502.9,380.4 L503.0,381.2 L503.1,382.1 L503.2,383.0 L503.2,383.9 L503.3,384.8 L503.4,385.7 L503.5,386.6 L503.6,387.5 L503.6,388.4 L503.7,389.3 L503.8,390.2 L503.9,391.1 L504.0,392.0 L504.0,392.8 L504.1,393.7 L504.2,394.6 L504.3,395.5 L504.4,396.4 L504.5,397.3 L504.5,398.2 L504.6,399.1 L504.7,400.0 L504.8,400.9 L504.9,401.8 L504.9,402.7 L505.0,403.6 L505.1,404.5 L505.2,405.3 L505.3,406.2 L505.4,407.1 L505.4,408.0 L505.5,408.9 L505.6,409.8 L505.7,410.7 L505.8,411.6 L505.8,412.5 L505.9,413.4 L506.0,414.3 L506.1,415.2 L506.2,416.1 L506.3,416.9 L506.3,417.8 L506.4,418.7 L506.5,419.6 L506.6,420.5 L506.7,421.4 L506.8,422.3 L506.9,423.2 L506.9,424.1 L507.0,425.0 L507.1,425.9 L507.2,426.7 L507.3,427.6 L507.4,428.5 L507.4,429.4 L507.5,430.3 L507.6,431.2 L507.7,432.1 L507.8,433.0 L507.9,433.9 L508.0,434.8 L508.0,435.7 L508.1,436.5 L508.2,437.4 L508.3,438.3 L508.4,439.2 L508.5,440.1 L508.6,441.0 L508.7,441.9 L508.7,442.8 L508.8,443.7 L508.9,444.6 L509.0,445.4 L509.1,446.3 L509.2,447.2 L509.3,448.1 L509.4,449.0 L509.4,449.9 L509.5,450.8 L509.6,451.7 L509.7,452.6 L509.8,453.4 L509.9,454.3 L510.0,455.2 L510.1,456.1 L510.2,457.0 L510.3,457.9 L510.4,458.8 L510.4,459.7 L510.5,460.6 L510.6,461.4 L510.7,462.3 L510.8,463.2 L510.9,464.1 L511.0,465.0 L511.1,465.9 L511.2,466.8 L511.3,467.7 L511.4,468.5 L511.5,469.4 L511.6,470.3 L511.7,471.2 L511.8,472.1 L511.9,473.0 L512.0,473.9 L512.1,474.7 L512.2,475.6 L512.3,476.5 L512.4,477.4 L512.5,478.3 L512.6,479.2 L512.7,480.1 L512.8,481.0 L513.0,481.8 L513.1,482.7 L513.2,483.6 L513.3,484.5 L513.4,485.4 L513.5,486.3 L513.7,487.2 L513.8,488.0 L513.9,488.9 L514.0,489.8 L514.2,490.7 L514.3,491.6 L514.4,492.5 L514.5,493.4 L514.7,494.2 L514.8,495.1 L514.9,496.0 L515.1,496.9 L515.2,497.8 L515.4,498.7 L515.5,499.6 L515.7,500.4 L515.8,501.3 L515.9,502.2 L516.1,503.1 L516.3,504.0 L516.4,504.9 L516.6,505.8 L516.7,506.7 L516.9,507.5 L517.1,508.4 L517.2,509.3 L517.4,510.2 L517.6,511.1 L517.7,512.0 L517.9,512.9 L518.1,513.7 L518.3,514.6 L518.5,515.5 L518.7,516.4 L518.8,517.3 L519.0,518.2 L519.2,519.1 L519.4,520.0 L519.6,520.8 L519.8,521.7 L520.0,522.6 L520.2,523.5 L520.5,524.4 L520.7,525.3 L520.9,526.2 L521.1,527.1 L521.3,527.9 L521.6,528.8 L521.8,529.7 L522.0,530.6 L522.3,531.5 L522.5,532.4 L522.7,533.3 L523.0,534.2 L523.2,535.1 L523.5,535.9 L523.8,536.8 L524.1,537.7 L524.3,538.5 L524.7,539.4 L525.0,540.2 L525.3,541.0 L525.7,541.8 L526.1,542.6 L526.5,543.3 L526.9,544.0 L527.3,544.7 L527.8,545.4 L528.3,546.0 L528.9,546.6 L529.4,547.1 L530.3,547.8 L530.9,548.3 L531.6,548.7 L532.3,549.1 L533.1,549.5 L533.8,549.8 L534.6,550.1 L535.5,550.4 L536.3,550.6 L537.2,550.8 L538.0,551.0 L538.9,551.2 L539.8,551.4 L540.8,551.5 L541.7,551.7 L542.6,551.8 L543.5,551.9 L544.5,552.0 L545.4,552.1 L546.3,552.2 L547.2,552.3 L548.2,552.4 L549.1,552.4 L550.0,552.5 L550.9,552.6 L551.8,552.7 L552.7,552.7 L553.7,552.8 L554.6,552.8 L555.5,552.9 L556.4,552.9 L557.3,553.0 L558.2,553.0 L559.1,553.0 L560.0,553.0 L560.9,553.0 L561.8,553.0 L562.7,553.0 L563.6,553.0 L564.5,553.0 L565.4,553.0 L566.3,553.0 L567.2,553.0 L568.1,553.0 L569.0,553.0 L569.9,553.0 L570.8,553.0 L571.7,553.0 L572.5,553.0 L573.4,553.0 L574.3,553.0 L575.2,553.0 L576.1,553.0 L577.0,553.0 L577.9,553.0 L578.8,553.0 L579.7,553.0 L580.5,553.0 L581.4,553.0 L582.3,553.0 L583.2,553.0 L584.1,553.0 L585.0,553.0 L585.9,553.0 L586.8,553.0 L587.6,553.0 L588.5,553.0 L589.4,553.0 L590.3,553.0 L591.2,553.0 L592.1,553.0 L593.0,552.9 L593.9,552.9 L594.8,552.9 L595.7,552.9 L596.5,552.9 L597.4,552.9 L598.3,552.9 L599.2,552.9 L600.1,552.9 L601.0,552.9 L601.9,552.9 L602.8,552.9 L603.7,552.9 L604.6,552.9 L605.5,552.9 L606.4,552.9 L607.3,552.9 L608.2,552.9 L609.1,552.9 L610.0,552.9 L610.9,552.9 L611.8,552.9 L612.7,552.9 L613.6,552.9 L614.4,552.9 L615.3,552.9 L616.2,552.9 L617.1,552.9 L618.0,552.9 L618.9,552.9 L619.8,552.9 L620.7,552.9 L621.6,552.9 L622.5,552.9 L623.4,552.9 L624.3,553.0 L625.2,553.0 L626.1,553.0 L627.0,553.0 L627.9,553.0 L628.8,553.0 L629.7,553.0 L630.6,553.0 L631.5,553.0 L632.4,553.0 L633.3,553.0 L634.2,553.0 L635.1,553.0 L636.0,553.0 L636.9,553.0 L637.8,553.0 L638.7,553.0 L639.6,553.0 L640.5,553.0 L641.4,553.0 L642.3,553.0 L643.2,553.0 L644.1,553.0 L645.0,553.0 L645.9,553.0 L646.8,553.0 L647.7,553.0 L648.6,553.0 L649.5,553.0 L650.4,553.0 L651.3,553.0 L652.2,553.0 L653.1,553.0 L654.0,553.0 L654.8,553.0 L655.7,553.0 L656.6,553.0 L657.5,553.0 L658.4,553.0 L659.3,553.0 L660.2,553.0 L661.1,553.0 L662.0,553.0 L662.9,553.0 L663.8,553.0 L664.7,553.0 L665.6,553.0 L666.4,553.0 L667.3,553.0 L668.2,553.0 L669.1,553.0 L670.0,552.9 L670.9,552.9 L671.8,552.9 L672.7,552.9 L673.5,552.9 L674.4,552.8 L675.3,552.8 L675.9,552.8" stroke="#e30f10" stroke-width="4.2" fill="none" stroke-linejoin="round" stroke-linecap="butt"/>
<path d="M24.5,552.4 L25.3,552.5 L26.1,552.6 L26.9,552.6 L27.7,552.7 L28.6,552.8 L29.4,552.8 L30.2,552.9 L31.0,552.9 L31.9,553.0 L32.7,553.0 L33.5,553.0 L34.3,553.0 L35.1,553.0 L36.0,553.0 L36.8,553.0 L37.6,553.0 L38.4,553.0 L39.2,553.0 L40.0,553.0 L40.9,553.0 L41.7,553.0 L42.5,553.0 L43.3,553.0 L44.1,553.0 L44.9,553.0 L45.8,553.0 L46.6,553.0 L47.4,553.0 L48.2,553.0 L49.0,553.0 L49.8,553.0 L50.6,553.0 L51.5,553.0 L52.3,553.0 L53.1,553.0 L53.9,553.0 L54.7,553.0 L55.5,552.9 L56.3,552.9 L57.1,552.8 L58.0,552.8 L58.8,552.7 L59.6,552.7 L60.4,552.6 L61.2,552.5 L62.0,552.5 L62.8,552.4 L63.6,552.3 L64.4,552.3 L65.3,552.2 L66.1,552.1 L66.9,552.0 L67.7,551.9 L68.5,551.8 L69.3,551.7 L70.1,551.6 L70.9,551.5 L71.7,551.4 L72.6,551.3 L73.4,551.2 L74.2,551.1 L75.0,551.0 L75.8,550.9 L76.6,550.8 L77.4,550.6 L78.2,550.5 L79.0,550.4 L79.8,550.3 L80.7,550.2 L81.5,550.0 L82.3,549.9 L83.1,549.8 L83.9,549.7 L84.7,549.5 L85.5,549.4 L86.3,549.3 L87.1,549.2 L87.9,549.1 L88.8,549.0 L89.6,548.8 L90.4,548.7 L91.2,548.6 L92.0,548.5 L92.8,548.4 L93.6,548.3 L94.4,548.2 L95.2,548.1 L96.0,548.0 L96.9,547.9 L97.7,547.8 L98.5,547.7 L99.3,547.6 L100.1,547.6 L100.9,547.5 L101.7,547.4 L102.5,547.4 L103.3,547.3 L104.1,547.2 L105.0,547.2 L105.8,547.1 L106.6,547.1 L107.4,547.1 L108.2,547.0 L109.0,547.0 L109.8,547.0 L110.6,547.0 L111.4,546.9 L112.3,546.9 L113.1,546.9 L113.9,546.9 L114.7,546.9 L115.5,546.9 L116.3,546.9 L117.1,546.9 L117.9,546.9 L118.8,547.0 L119.6,547.0 L120.4,547.0 L121.2,547.0 L122.0,547.1 L122.8,547.1 L123.6,547.1 L124.4,547.2 L125.2,547.2 L126.1,547.3 L126.9,547.3 L127.7,547.3 L128.5,547.4 L129.3,547.5 L130.1,547.5 L130.9,547.6 L131.7,547.6 L132.6,547.7 L133.4,547.7 L134.2,547.8 L135.0,547.9 L135.8,547.9 L136.6,548.0 L137.4,548.1 L138.3,548.2 L139.1,548.2 L139.9,548.3 L140.7,548.4 L141.5,548.5 L142.3,548.5 L143.1,548.6 L143.9,548.7 L144.8,548.8 L145.6,548.9 L146.4,548.9 L147.2,549.0 L148.0,549.1 L148.8,549.2 L149.6,549.3 L150.5,549.3 L151.3,549.4 L152.1,549.5 L152.9,549.6 L153.7,549.7 L154.5,549.8 L155.3,549.8 L156.1,549.9 L157.0,550.0 L157.8,550.1 L158.6,550.2 L159.4,550.2 L160.2,550.3 L161.0,550.4 L161.8,550.5 L162.7,550.5 L163.5,550.6 L164.3,550.7 L165.1,550.7 L165.9,550.8 L166.7,550.9 L167.5,550.9 L168.4,551.0 L169.2,551.1 L170.0,551.1 L170.8,551.2 L171.6,551.3 L172.4,551.3 L173.2,551.4 L174.1,551.4 L174.9,551.5 L175.7,551.5 L176.5,551.6 L177.3,551.6 L178.1,551.7 L179.0,551.7 L179.8,551.8 L180.6,551.8 L181.4,551.9 L182.2,551.9 L183.0,551.9 L183.8,552.0 L184.7,552.0 L185.5,552.1 L186.3,552.1 L187.1,552.1 L187.9,552.2 L188.7,552.2 L189.5,552.2 L190.4,552.3 L191.2,552.3 L192.0,552.3 L192.8,552.4 L193.6,552.4 L194.4,552.4 L195.3,552.5 L196.1,552.5 L196.9,552.5 L197.7,552.5 L198.5,552.6 L199.3,552.6 L200.1,552.6 L201.0,552.6 L201.8,552.6 L202.6,552.7 L203.4,552.7 L204.2,552.7 L205.0,552.7 L205.9,552.7 L206.7,552.8 L207.5,552.8 L208.3,552.8 L209.1,552.8 L209.9,552.8 L210.8,552.8 L211.6,552.8 L212.4,552.9 L213.2,552.9 L214.0,552.9 L214.8,552.9 L215.7,552.9 L216.5,552.9 L217.3,552.9 L218.1,552.9 L218.9,552.9 L219.7,552.9 L220.5,552.9 L221.4,552.9 L222.2,553.0 L223.0,553.0 L223.8,553.0 L224.6,553.0 L225.4,553.0 L226.3,553.0 L227.1,553.0 L227.9,553.0 L228.7,553.0 L229.5,553.0 L230.3,553.0 L231.2,553.0 L232.0,553.0 L232.8,553.0 L233.6,553.0 L234.4,553.0 L235.2,553.0 L236.1,553.0 L236.9,553.0 L237.7,553.0 L238.5,553.0 L239.3,553.0 L240.1,553.0 L241.0,553.0 L241.8,553.0 L242.6,553.0 L243.4,553.0 L244.2,553.0 L245.0,553.0 L245.9,553.0 L246.7,553.0 L247.5,553.0 L248.3,553.0 L249.1,553.0 L249.9,553.0 L250.8,553.0 L251.6,553.0 L252.4,553.0 L253.2,553.0 L254.0,553.0 L254.8,553.0 L255.7,553.0 L256.5,553.0 L257.3,553.0 L258.1,553.0 L258.9,553.0 L259.7,553.0 L260.6,553.0 L261.4,553.0 L262.2,553.0 L263.0,553.0 L263.8,553.0 L264.6,553.0 L265.5,553.0 L266.3,553.0 L267.1,553.0 L267.9,553.0 L268.7,553.0 L269.5,553.0 L270.4,553.0 L271.2,553.0 L272.0,553.0 L272.8,553.0 L273.6,553.0 L274.4,553.0 L275.3,553.0 L276.1,553.0 L276.9,553.0 L277.7,553.0 L278.5,553.0 L279.3,553.0 L280.2,553.0 L281.0,553.0 L281.8,553.0 L282.6,553.0 L283.4,553.0 L284.2,553.0 L285.1,553.0 L285.9,553.0 L286.7,553.0 L287.5,553.0 L288.3,553.0 L289.1,553.0 L290.0,553.0 L290.8,553.0 L291.6,553.0 L292.4,553.0 L293.2,553.0 L294.0,553.0 L294.9,553.0 L295.7,553.0 L296.5,553.0 L297.3,553.0 L298.1,553.0 L298.9,553.0 L299.8,553.0 L300.6,553.0 L301.4,553.0 L302.2,553.0 L303.0,553.0 L303.8,553.0 L304.7,553.0 L305.5,553.0 L306.3,553.0 L307.1,553.0 L307.9,553.0 L308.7,553.0 L309.6,553.0 L310.4,553.0 L311.2,553.0 L312.0,553.0 L312.8,553.0 L313.6,553.0 L314.5,553.0 L315.3,553.0 L316.1,553.0 L316.9,553.0 L317.7,553.0 L318.5,553.0 L319.4,553.0 L320.2,553.0 L321.0,553.0 L321.8,553.0 L322.6,553.0 L323.4,553.0 L324.3,553.0 L325.1,553.0 L325.9,553.0 L326.7,553.0 L327.5,553.0 L328.4,553.0 L329.2,553.0 L330.0,553.0 L330.8,553.0 L331.6,553.0 L332.4,553.0 L333.3,553.0 L334.1,553.0 L334.9,553.0 L335.7,553.0 L336.5,553.0 L337.3,553.0 L338.2,553.0 L339.0,553.0 L339.8,553.0 L340.6,553.0 L341.4,553.0 L342.2,553.0 L343.1,553.0 L343.9,553.0 L344.7,553.0 L345.5,553.0 L346.3,553.0 L347.1,553.0 L348.0,553.0 L348.8,553.0 L349.6,553.0 L350.4,553.0 L351.2,553.0 L352.0,553.0 L352.9,553.0 L353.7,553.0 L354.5,553.0 L355.3,553.0 L356.1,553.0 L356.9,553.0 L357.8,553.0 L358.6,553.0 L359.4,552.9 L360.2,552.9 L361.0,552.9 L361.8,552.9 L362.6,552.9 L363.5,552.9 L364.3,552.8 L365.1,552.8 L365.9,552.8 L366.7,552.8 L367.5,552.7 L368.3,552.7 L369.2,552.7 L370.0,552.6 L370.8,552.6 L371.6,552.6 L372.4,552.5 L373.2,552.5 L374.0,552.4 L374.9,552.4 L375.7,552.3 L376.5,552.3 L377.3,552.2 L378.1,552.2 L378.9,552.1 L379.7,552.1 L380.5,552.0 L381.4,552.0 L382.2,551.9 L383.0,551.8 L383.8,551.8 L384.6,551.7 L385.4,551.6 L386.2,551.5 L387.0,551.4 L387.8,551.4 L388.7,551.3 L389.5,551.2 L390.3,551.1 L391.1,551.0 L391.9,550.9 L392.7,550.8 L393.5,550.7 L394.3,550.6 L395.1,550.5 L395.9,550.4 L396.7,550.2 L397.5,550.1 L398.4,550.0 L399.2,549.9 L400.0,549.8 L400.8,549.7 L401.6,549.5 L402.4,549.4 L403.2,549.3 L404.0,549.2 L404.8,549.0 L405.6,548.9 L406.4,548.8 L407.2,548.7 L408.0,548.6 L408.9,548.4 L409.7,548.3 L410.5,548.2 L411.3,548.1 L412.1,548.0 L412.9,547.8 L413.7,547.7 L414.5,547.6 L415.3,547.5 L416.1,547.4 L416.9,547.3 L417.8,547.2 L418.6,547.1 L419.4,547.0 L420.2,546.9 L421.0,546.8 L421.8,546.7 L422.6,546.6 L423.4,546.5 L424.3,546.4 L425.1,546.3 L425.9,546.3 L426.7,546.2 L427.5,546.1 L428.3,546.1 L429.1,546.0 L430.0,545.9 L430.8,545.9 L431.6,545.8 L432.4,545.7 L433.2,545.7 L434.0,545.6 L434.8,545.6 L435.7,545.6 L436.5,545.5 L437.3,545.5 L438.1,545.4 L438.9,545.4 L439.7,545.4 L440.6,545.4 L441.4,545.3 L442.2,545.3 L443.0,545.3 L443.8,545.3 L444.6,545.3 L445.4,545.3 L446.3,545.3 L447.1,545.3 L447.9,545.3 L448.7,545.3 L449.5,545.3 L450.3,545.3 L451.2,545.3 L452.0,545.3 L452.8,545.3 L453.6,545.4 L454.4,545.4 L455.2,545.4 L456.0,545.5 L456.9,545.5 L457.7,545.5 L458.5,545.6 L459.3,545.6 L460.1,545.7 L460.9,545.7 L461.7,545.8 L462.5,545.8 L463.4,545.9 L464.2,545.9 L465.0,546.0 L465.8,546.1 L466.6,546.1 L467.4,546.2 L468.2,546.3 L469.0,546.4 L469.9,546.4 L470.7,546.5 L471.5,546.6 L472.3,546.7 L473.1,546.7 L473.9,546.8 L474.7,546.9 L475.5,547.0 L476.3,547.1 L477.1,547.2 L478.0,547.3 L478.8,547.4 L479.6,547.5 L480.4,547.6 L481.2,547.7 L482.0,547.8 L482.8,547.9 L483.6,548.0 L484.4,548.1 L485.2,548.1 L486.1,548.2 L486.9,548.3 L487.7,548.4 L488.5,548.5 L489.3,548.6 L490.1,548.7 L490.9,548.8 L491.7,548.9 L492.5,549.0 L493.3,549.1 L494.2,549.2 L495.0,549.3 L495.8,549.4 L496.6,549.4 L497.4,549.5 L498.2,549.6 L499.0,549.7 L499.8,549.8 L500.6,549.9 L501.5,549.9 L502.3,550.0 L503.1,550.1 L503.9,550.2 L504.7,550.2 L505.5,550.3 L506.3,550.4 L507.1,550.4 L507.9,550.5 L508.8,550.6 L509.6,550.6 L510.4,550.7 L511.2,550.8 L512.0,550.8 L512.8,550.9 L513.6,551.0 L514.4,551.0 L515.3,551.1 L516.1,551.1 L516.9,551.2 L517.7,551.2 L518.5,551.3 L519.3,551.3 L520.1,551.4 L521.0,551.4 L521.8,551.5 L522.6,551.5 L523.4,551.6 L524.2,551.6 L525.0,551.7 L525.8,551.7 L526.7,551.8 L527.5,551.8 L528.3,551.8 L529.1,551.9 L529.9,551.9 L530.7,552.0 L531.5,552.0 L532.4,552.0 L533.2,552.1 L534.0,552.1 L534.8,552.1 L535.6,552.2 L536.4,552.2 L537.2,552.2 L538.1,552.3 L538.9,552.3 L539.7,552.3 L540.5,552.4 L541.3,552.4 L542.1,552.4 L543.0,552.4 L543.8,552.5 L544.6,552.5 L545.4,552.5 L546.2,552.5 L547.0,552.6 L547.8,552.6 L548.7,552.6 L549.5,552.6 L550.3,552.6 L551.1,552.6 L551.9,552.7 L552.7,552.7 L553.6,552.7 L554.4,552.7 L555.2,552.7 L556.0,552.7 L556.8,552.8 L557.6,552.8 L558.5,552.8 L559.3,552.8 L560.1,552.8 L560.9,552.8 L561.7,552.8 L562.5,552.8 L563.4,552.8 L564.2,552.9 L565.0,552.9 L565.8,552.9 L566.6,552.9 L567.4,552.9 L568.3,552.9 L569.1,552.9 L569.9,552.9 L570.7,552.9 L571.5,552.9 L572.3,552.9 L573.2,552.9 L574.0,552.9 L574.8,552.9 L575.6,552.9 L576.4,552.9 L577.2,552.9 L578.1,552.9 L578.9,552.9 L579.7,552.9 L580.5,552.9 L581.3,552.9 L582.1,552.9 L583.0,552.9 L583.8,552.9 L584.6,552.9 L585.4,552.9 L586.2,552.9 L587.1,552.9 L587.9,552.9 L588.7,552.9 L589.5,552.9 L590.3,552.9 L591.1,552.9 L592.0,552.9 L592.8,552.9 L593.6,552.9 L594.4,552.9 L595.2,552.9 L596.0,552.9 L596.9,552.9 L597.7,552.9 L598.5,552.9 L599.3,552.9 L600.1,552.9 L600.9,552.9 L601.8,552.9 L602.6,552.9 L603.4,552.9 L604.2,552.8 L605.0,552.8 L605.9,552.8 L606.7,552.8 L607.5,552.8 L608.3,552.8 L609.1,552.8 L609.9,552.8 L610.8,552.8 L611.6,552.8 L612.4,552.8 L613.2,552.8 L614.0,552.8 L614.8,552.8 L615.7,552.8 L616.5,552.8 L617.3,552.8 L618.1,552.8 L618.9,552.8 L619.7,552.8 L620.6,552.8 L621.4,552.8 L622.2,552.7 L623.0,552.7 L623.8,552.7 L624.7,552.7 L625.5,552.7 L626.3,552.7 L627.1,552.7 L627.9,552.7 L628.7,552.7 L629.6,552.7 L630.4,552.7 L631.2,552.7 L632.0,552.7 L632.8,552.7 L633.6,552.7 L634.5,552.7 L635.3,552.7 L636.1,552.7 L636.9,552.7 L637.7,552.7 L638.5,552.7 L639.4,552.7 L640.2,552.7 L641.0,552.7 L641.8,552.7 L642.6,552.8 L643.4,552.8 L644.3,552.8 L645.1,552.8 L645.9,552.8 L646.7,552.8 L647.5,552.8 L648.3,552.8 L649.1,552.8 L650.0,552.8 L650.8,552.8 L651.6,552.8 L652.4,552.8 L653.2,552.8 L654.0,552.9 L654.9,552.9 L655.7,552.9 L656.5,552.9 L657.3,552.9 L658.1,552.9 L658.9,552.9 L659.7,553.0 L660.6,553.0 L661.4,553.0 L662.2,553.0 L663.0,553.0 L663.8,553.0 L664.6,553.0 L665.4,553.0 L666.3,553.0 L667.1,553.0 L667.9,553.0 L668.7,553.0 L669.5,553.0 L670.3,553.0 L671.1,553.0 L672.0,553.0 L672.8,553.0 L673.6,553.0 L674.4,553.0 L675.2,553.0 L675.9,553.0" stroke="#808080" stroke-width="4.2" fill="none" stroke-linejoin="round" stroke-linecap="butt"/>
<path d="M24.8,553.0 L25.7,552.9 L26.6,552.8 L27.4,552.7 L28.3,552.7 L29.2,552.7 L30.1,552.6 L31.0,552.6 L31.9,552.6 L32.8,552.6 L33.7,552.7 L34.7,552.7 L35.5,552.7 L36.3,552.7 L37.1,552.7 L37.9,552.8 L38.7,552.8 L39.5,552.8 L40.4,552.8 L41.2,552.8 L42.1,552.8 L42.9,552.8 L43.8,552.8 L44.6,552.8 L45.5,552.7 L46.4,552.7 L47.2,552.6 L48.1,552.5 L49.0,552.5 L49.8,552.3 L50.7,552.2 L51.6,552.1 L52.4,551.9 L53.3,551.8 L54.1,551.6 L54.9,551.4 L55.7,551.1 L56.5,550.9 L57.3,550.6 L58.1,550.3 L58.8,550.0 L59.6,549.6 L60.4,549.2 L61.2,548.7 L61.9,548.2 L62.6,547.7 L63.3,547.1 L63.9,546.5 L64.5,545.9 L65.0,545.3 L65.6,544.6 L66.1,543.9 L66.5,543.2 L67.0,542.4 L67.4,541.7 L67.8,540.9 L68.2,540.1 L68.6,539.3 L68.9,538.4 L69.2,537.6 L69.5,536.7 L69.8,535.8 L70.0,535.0 L70.3,534.3 L70.5,533.5 L70.7,532.7 L70.9,531.9 L71.1,531.1 L71.3,530.3 L71.4,529.5 L71.6,528.7 L71.8,527.9 L71.9,527.0 L72.1,526.2 L72.3,525.4 L72.4,524.6 L72.6,523.8 L72.7,523.0 L72.9,522.2 L73.0,521.3 L73.2,520.5 L73.3,519.7 L73.5,518.9 L73.6,518.1 L73.8,517.3 L73.9,516.5 L74.1,515.7 L74.2,514.9 L74.4,514.0 L74.5,513.2 L74.7,512.4 L74.8,511.6 L74.9,510.8 L75.1,510.0 L75.2,509.2 L75.3,508.4 L75.5,507.6 L75.6,506.8 L75.8,506.0 L75.9,505.2 L76.0,504.4 L76.2,503.6 L76.3,502.8 L76.4,502.0 L76.6,501.2 L76.7,500.4 L76.8,499.6 L77.0,498.8 L77.1,498.0 L77.2,497.2 L77.3,496.4 L77.5,495.6 L77.6,494.8 L77.7,494.0 L77.9,493.2 L78.0,492.4 L78.1,491.6 L78.3,490.8 L78.4,490.0 L78.5,489.2 L78.7,488.4 L78.8,487.6 L78.9,486.8 L79.1,486.0 L79.2,485.2 L79.3,484.4 L79.5,483.6 L79.6,482.8 L79.7,482.0 L79.9,481.2 L80.0,480.4 L80.1,479.6 L80.3,478.8 L80.4,478.1 L80.6,477.3 L80.7,476.5 L80.8,475.7 L81.0,474.9 L81.1,474.1 L81.3,473.3 L81.4,472.5 L81.6,471.7 L81.7,470.9 L81.9,470.1 L82.0,469.3 L82.2,468.5 L82.3,467.8 L82.5,467.0 L82.6,466.2 L82.8,465.4 L82.9,464.6 L83.1,463.8 L83.3,463.0 L83.4,462.2 L83.6,461.4 L83.8,460.6 L83.9,459.8 L84.1,459.1 L84.3,458.3 L84.4,457.5 L84.6,456.7 L84.8,455.9 L85.0,455.1 L85.1,454.3 L85.3,453.5 L85.5,452.7 L85.7,451.9 L85.9,451.2 L86.1,450.4 L86.3,449.6 L86.5,448.8 L86.7,448.0 L86.8,447.2 L87.0,446.4 L87.3,445.6 L87.5,444.8 L87.7,444.1 L87.9,443.3 L88.1,442.5 L88.3,441.7 L88.5,440.9 L88.7,440.1 L89.0,439.3 L89.2,438.6 L89.4,437.8 L89.6,437.0 L89.9,436.2 L90.1,435.4 L90.3,434.7 L90.6,433.9 L90.8,433.1 L91.1,432.3 L91.3,431.5 L91.5,430.8 L91.8,430.0 L92.1,429.2 L92.3,428.5 L92.6,427.7 L92.8,426.9 L93.1,426.1 L93.4,425.4 L93.6,424.6 L93.9,423.8 L94.2,423.1 L94.5,422.3 L94.7,421.6 L95.0,420.8 L95.3,420.0 L95.6,419.3 L95.9,418.5 L96.2,417.8 L96.5,417.0 L96.8,416.3 L97.1,415.5 L97.4,414.8 L97.8,414.1 L98.1,413.3 L98.5,412.6 L98.8,411.9 L99.2,411.2 L99.6,410.5 L100.0,409.8 L100.4,409.1 L100.8,408.4 L101.3,407.7 L101.7,407.0 L102.2,406.4 L102.7,405.7 L103.2,405.1 L103.8,404.4 L104.3,403.8 L104.9,403.2 L105.5,402.6 L106.1,402.1 L106.8,401.5 L107.4,401.0 L108.1,400.5 L108.8,400.0 L109.5,399.6 L110.2,399.1 L110.9,398.7 L111.7,398.4 L112.4,398.0 L113.2,397.7 L113.9,397.5 L114.7,397.2 L115.6,397.0 L116.5,396.8 L117.4,396.7 L118.3,396.7 L119.2,396.7 L120.1,396.7 L121.0,396.8 L121.9,397.0 L122.8,397.2 L123.7,397.5 L124.5,397.8 L125.4,398.1 L126.2,398.5 L127.0,398.9 L127.8,399.4 L128.5,399.8 L129.2,400.3 L129.9,400.7 L130.6,401.3 L131.3,401.8 L132.1,402.4 L132.8,403.0 L133.4,403.7 L134.1,404.3 L134.8,405.0 L135.4,405.7 L136.0,406.4 L136.5,407.0 L137.0,407.6 L137.5,408.2 L138.0,408.9 L138.5,409.5 L138.9,410.2 L139.4,410.9 L139.9,411.6 L140.3,412.2 L140.7,412.9 L141.1,413.6 L141.6,414.3 L142.0,415.1 L142.4,415.8 L142.8,416.5 L143.2,417.2 L143.5,418.0 L143.9,418.7 L144.3,419.4 L144.6,420.2 L145.0,420.9 L145.3,421.7 L145.7,422.4 L146.0,423.2 L146.4,423.9 L146.7,424.7 L147.0,425.4 L147.4,426.2 L147.7,426.9 L148.0,427.7 L148.3,428.4 L148.6,429.2 L148.9,430.0 L149.2,430.7 L149.5,431.5 L149.8,432.2 L150.1,433.0 L150.4,433.8 L150.7,434.5 L151.0,435.3 L151.3,436.1 L151.5,436.8 L151.8,437.6 L152.1,438.3 L152.3,439.1 L152.6,439.9 L152.9,440.6 L153.1,441.4 L153.4,442.2 L153.6,443.0 L153.9,443.7 L154.1,444.5 L154.4,445.3 L154.6,446.0 L154.9,446.8 L155.1,447.6 L155.3,448.3 L155.6,449.1 L155.8,449.9 L156.0,450.7 L156.3,451.4 L156.5,452.2 L156.7,453.0 L156.9,453.8 L157.2,454.5 L157.4,455.3 L157.6,456.1 L157.8,456.9 L158.0,457.7 L158.3,458.4 L158.5,459.2 L158.7,460.0 L158.9,460.8 L159.1,461.5 L159.3,462.3 L159.5,463.1 L159.7,463.9 L160.0,464.7 L160.2,465.4 L160.4,466.2 L160.6,467.0 L160.8,467.8 L161.0,468.6 L161.2,469.3 L161.4,470.1 L161.6,470.9 L161.8,471.7 L162.0,472.5 L162.2,473.2 L162.4,474.0 L162.6,474.8 L162.8,475.6 L163.0,476.4 L163.3,477.2 L163.5,477.9 L163.7,478.7 L163.9,479.5 L164.1,480.3 L164.3,481.1 L164.5,481.8 L164.7,482.6 L164.9,483.4 L165.2,484.2 L165.4,485.0 L165.6,485.7 L165.8,486.5 L166.0,487.3 L166.2,488.1 L166.5,488.9 L166.7,489.6 L166.9,490.4 L167.2,491.2 L167.4,492.0 L167.6,492.7 L167.8,493.5 L168.1,494.3 L168.3,495.1 L168.6,495.8 L168.8,496.6 L169.0,497.4 L169.3,498.2 L169.5,498.9 L169.8,499.7 L170.0,500.5 L170.3,501.3 L170.6,502.0 L170.8,502.8 L171.1,503.6 L171.4,504.3 L171.6,505.1 L171.9,505.9 L172.2,506.6 L172.5,507.4 L172.8,508.2 L173.1,508.9 L173.4,509.7 L173.7,510.4 L174.0,511.2 L174.3,511.9 L174.6,512.7 L174.9,513.4 L175.3,514.2 L175.6,514.9 L175.9,515.6 L176.3,516.4 L176.6,517.1 L177.0,517.8 L177.3,518.6 L177.7,519.3 L178.1,520.0 L178.5,520.7 L178.9,521.4 L179.3,522.1 L179.7,522.8 L180.1,523.5 L180.5,524.2 L180.9,524.9 L181.4,525.6 L181.8,526.3 L182.2,527.0 L182.7,527.7 L183.2,528.3 L183.6,529.0 L184.1,529.6 L184.6,530.3 L185.1,530.9 L185.6,531.6 L186.1,532.2 L186.7,532.8 L187.2,533.4 L187.7,534.0 L188.3,534.6 L188.8,535.2 L189.4,535.7 L190.0,536.3 L190.7,536.9 L191.4,537.5 L192.1,538.1 L192.8,538.7 L193.6,539.3 L194.3,539.8 L195.1,540.3 L195.9,540.8 L196.7,541.3 L197.5,541.7 L198.3,542.1 L199.1,542.5 L200.0,542.9 L200.9,543.2 L201.6,543.5 L202.4,543.8 L203.1,544.0 L203.9,544.3 L204.7,544.5 L205.5,544.7 L206.3,544.9 L207.1,545.1 L207.9,545.3 L208.7,545.4 L209.5,545.6 L210.3,545.7 L211.1,545.9 L211.9,546.0 L212.7,546.2 L213.5,546.3 L214.4,546.4 L215.2,546.6 L216.0,546.7 L216.8,546.8 L217.6,546.9 L218.4,547.0 L219.2,547.2 L220.0,547.3 L220.8,547.4 L221.6,547.5 L222.4,547.7 L223.2,547.9 L224.0,548.2 L224.8,548.5 L225.6,548.8 L226.4,549.0 L227.2,549.3 L228.0,549.6 L228.8,549.7 L229.6,549.8 L230.4,549.8 L231.2,549.9 L232.0,550.0 L232.8,550.1 L233.6,550.2 L234.4,550.2 L235.2,550.3 L236.0,550.4 L236.8,550.5 L237.6,550.5 L238.4,550.6 L239.2,550.6 L240.0,550.7 L240.8,550.8 L241.6,550.8 L242.4,550.9 L243.2,550.9 L244.1,551.0 L244.9,551.1 L245.7,551.1 L246.5,551.2 L247.3,551.2 L248.1,551.3 L248.9,551.3 L249.7,551.4 L250.5,551.4 L251.4,551.4 L252.2,551.5 L253.0,551.5 L253.8,551.6 L254.6,551.6 L255.4,551.6 L256.2,551.7 L257.1,551.7 L257.9,551.8 L258.7,551.8 L259.5,551.8 L260.3,551.9 L261.1,551.9 L261.9,551.9 L262.8,551.9 L263.6,552.0 L264.4,552.0 L265.2,552.0 L266.0,552.1 L266.8,552.1 L267.6,552.1 L268.5,552.1 L269.3,552.2 L270.1,552.2 L270.9,552.2 L271.7,552.2 L272.5,552.3 L273.3,552.3 L274.1,552.3 L275.0,552.3 L275.8,552.3 L276.6,552.4 L277.4,552.4 L278.2,552.4 L279.0,552.4 L279.8,552.4 L280.6,552.4 L281.4,552.5 L282.2,552.5 L283.0,552.5 L283.8,552.5 L284.7,552.5 L285.5,552.5 L286.3,552.5 L287.1,552.5 L287.9,552.6 L288.7,552.6 L289.5,552.6 L290.3,552.6 L291.1,552.6 L291.9,552.6 L292.7,552.6 L293.5,552.6 L294.3,552.6 L295.1,552.6 L295.9,552.6 L296.7,552.6 L297.5,552.6 L298.3,552.7 L299.2,552.7 L300.0,552.7 L300.8,552.7 L301.6,552.7 L302.4,552.7 L303.2,552.7 L304.0,552.7 L304.8,552.7 L305.6,552.7 L306.4,552.7 L307.2,552.7 L308.0,552.7 L308.8,552.7 L309.6,552.7 L310.4,552.7 L311.2,552.7 L312.0,552.7 L312.9,552.7 L313.7,552.7 L314.5,552.7 L315.3,552.7 L316.1,552.7 L316.9,552.7 L317.7,552.7 L318.5,552.7 L319.3,552.7 L320.1,552.7 L320.9,552.7 L321.7,552.7 L322.6,552.7 L323.4,552.7 L324.2,552.7 L325.0,552.7 L325.8,552.7 L326.6,552.7 L327.4,552.7 L328.2,552.7 L329.1,552.7 L329.9,552.7 L330.7,552.7 L331.5,552.7 L332.3,552.7 L333.1,552.7 L333.9,552.7 L334.8,552.7 L335.6,552.7 L336.4,552.7 L337.2,552.7 L338.0,552.7 L338.9,552.7 L339.7,552.7 L340.5,552.7 L341.3,552.7 L342.1,552.7 L343.0,552.7 L343.8,552.7 L344.6,552.7 L345.4,552.7 L346.3,552.7 L347.1,552.7 L347.9,552.7 L348.7,552.7 L349.6,552.7 L350.4,552.7 L351.2,552.7 L352.0,552.7 L352.9,552.7 L353.7,552.8 L354.5,552.8 L355.3,552.8 L356.2,552.8 L357.0,552.8 L357.8,552.8 L358.6,552.8 L359.4,552.7 L360.2,552.5 L361.1,552.3 L361.9,552.1 L362.7,551.9 L363.5,551.6 L364.2,551.3 L365.0,550.9 L366.0,550.8 L366.9,550.6 L367.8,550.4 L368.7,550.2 L369.6,550.0 L370.4,549.8 L371.3,549.5 L372.2,549.3 L373.0,549.0 L373.9,548.7 L374.7,548.3 L375.5,548.0 L376.3,547.6 L377.1,547.2 L377.9,546.8 L378.7,546.3 L379.5,545.8 L380.3,545.3 L381.0,544.8 L381.7,544.2 L382.4,543.6 L383.0,543.1 L383.6,542.6 L384.2,542.0 L384.8,541.4 L385.3,540.8 L385.9,540.2 L386.4,539.6 L386.9,538.9 L387.4,538.3 L387.9,537.6 L388.4,537.0 L388.9,536.3 L389.3,535.6 L389.7,534.9 L390.2,534.2 L390.6,533.4 L390.9,532.7 L391.3,532.0 L391.6,531.2 L392.0,530.5 L392.3,529.8 L392.6,529.0 L392.9,528.2 L393.2,527.5 L393.4,526.7 L393.7,526.0 L393.9,525.2 L394.2,524.4 L394.4,523.6 L394.6,522.9 L394.8,522.1 L395.1,521.3 L395.3,520.5 L395.5,519.7 L395.7,518.9 L395.9,518.2 L396.1,517.4 L396.3,516.6 L396.5,515.8 L396.7,515.0 L396.9,514.2 L397.1,513.4 L397.3,512.6 L397.5,511.9 L397.7,511.1 L397.9,510.3 L398.1,509.5 L398.2,508.7 L398.4,507.9 L398.6,507.1 L398.8,506.3 L399.0,505.5 L399.2,504.7 L399.3,504.0 L399.5,503.2 L399.7,502.4 L399.9,501.6 L400.1,500.8 L400.2,500.0 L400.4,499.2 L400.6,498.4 L400.7,497.6 L400.9,496.8 L401.1,496.0 L401.3,495.2 L401.4,494.4 L401.6,493.6 L401.8,492.8 L401.9,492.0 L402.1,491.3 L402.3,490.5 L402.4,489.7 L402.6,488.9 L402.8,488.1 L402.9,487.3 L403.1,486.5 L403.2,485.7 L403.4,484.9 L403.6,484.1 L403.7,483.3 L403.9,482.5 L404.1,481.7 L404.2,480.9 L404.4,480.1 L404.5,479.3 L404.7,478.5 L404.9,477.7 L405.0,476.9 L405.2,476.1 L405.3,475.3 L405.5,474.5 L405.7,473.7 L405.8,472.9 L406.0,472.2 L406.1,471.4 L406.3,470.6 L406.5,469.8 L406.6,469.0 L406.8,468.2 L406.9,467.4 L407.1,466.6 L407.3,465.8 L407.4,465.0 L407.6,464.2 L407.8,463.4 L407.9,462.6 L408.1,461.8 L408.3,461.0 L408.4,460.2 L408.6,459.5 L408.8,458.7 L408.9,457.9 L409.1,457.1 L409.3,456.3 L409.4,455.5 L409.6,454.7 L409.8,453.9 L410.0,453.1 L410.1,452.3 L410.3,451.6 L410.5,450.8 L410.7,450.0 L410.8,449.2 L411.0,448.4 L411.2,447.6 L411.4,446.8 L411.6,446.1 L411.7,445.3 L411.9,444.5 L412.1,443.7 L412.3,442.9 L412.5,442.1 L412.7,441.4 L412.9,440.6 L413.1,439.8 L413.3,439.0 L413.5,438.2 L413.7,437.5 L413.9,436.7 L414.1,435.9 L414.3,435.1 L414.5,434.3 L414.7,433.6 L414.9,432.8 L415.1,432.0 L415.3,431.2 L415.5,430.5 L415.7,429.7 L415.9,428.9 L416.2,428.1 L416.4,427.3 L416.6,426.6 L416.8,425.8 L417.1,425.0 L417.3,424.2 L417.5,423.5 L417.8,422.7 L418.0,421.9 L418.2,421.1 L418.5,420.4 L418.7,419.6 L419.0,418.8 L419.2,418.0 L419.5,417.3 L419.7,416.5 L420.0,415.7 L420.3,414.9 L420.5,414.1 L420.8,413.4 L421.1,412.6 L421.3,411.8 L421.6,411.0 L421.9,410.2 L422.2,409.5 L422.5,408.7 L422.8,407.9 L423.1,407.1 L423.4,406.4 L423.7,405.6 L424.0,404.8 L424.3,404.1 L424.7,403.3 L425.0,402.6 L425.4,401.8 L425.7,401.1 L426.1,400.4 L426.4,399.6 L426.8,398.9 L427.2,398.2 L427.6,397.5 L428.0,396.8 L428.5,396.1 L428.9,395.4 L429.3,394.8 L429.8,394.1 L430.3,393.5 L430.8,392.8 L431.3,392.2 L431.8,391.6 L432.3,391.0 L432.8,390.4 L433.4,389.8 L434.0,389.2 L434.5,388.7 L435.1,388.1 L435.8,387.6 L436.4,387.1 L437.0,386.6 L437.7,386.1 L438.4,385.6 L439.0,385.2 L439.7,384.8 L440.4,384.4 L441.1,384.0 L441.9,383.6 L442.6,383.2 L443.3,382.9 L444.1,382.6 L444.8,382.3 L445.6,382.0 L446.4,381.8 L447.1,381.5 L448.0,381.3 L448.9,381.1 L449.8,380.9 L450.7,380.8 L451.6,380.7 L452.6,380.6 L453.5,380.5 L454.4,380.5 L455.3,380.6 L456.2,380.6 L457.1,380.8 L458.0,380.9 L458.9,381.1 L459.7,381.3 L460.6,381.6 L461.5,381.9 L462.3,382.3 L463.2,382.7 L463.9,383.1 L464.6,383.5 L465.2,383.9 L465.9,384.4 L466.6,384.8 L467.3,385.4 L467.9,385.9 L468.5,386.5 L469.2,387.0 L469.8,387.6 L470.4,388.2 L471.0,388.9 L471.6,389.5 L472.1,390.1 L472.7,390.8 L473.2,391.5 L473.7,392.1 L474.3,392.8 L474.8,393.5 L475.3,394.2 L475.7,394.9 L476.2,395.6 L476.7,396.3 L477.1,397.0 L477.5,397.7 L478.0,398.4 L478.4,399.1 L478.8,399.8 L479.2,400.5 L479.6,401.2 L480.0,401.9 L480.4,402.6 L480.7,403.3 L481.1,404.0 L481.5,404.7 L481.9,405.4 L482.2,406.1 L482.6,406.9 L482.9,407.6 L483.3,408.3 L483.7,409.0 L484.0,409.8 L484.4,410.5 L484.7,411.2 L485.0,411.9 L485.4,412.7 L485.7,413.4 L486.1,414.1 L486.4,414.9 L486.7,415.6 L487.0,416.3 L487.4,417.1 L487.7,417.8 L488.0,418.6 L488.3,419.3 L488.6,420.0 L489.0,420.8 L489.3,421.5 L489.6,422.3 L489.9,423.0 L490.2,423.8 L490.5,424.5 L490.8,425.3 L491.1,426.0 L491.4,426.8 L491.7,427.5 L492.0,428.3 L492.2,429.1 L492.5,429.8 L492.8,430.6 L493.1,431.3 L493.4,432.1 L493.7,432.8 L493.9,433.6 L494.2,434.4 L494.5,435.1 L494.8,435.9 L495.0,436.7 L495.3,437.4 L495.6,438.2 L495.8,439.0 L496.1,439.7 L496.4,440.5 L496.6,441.3 L496.9,442.0 L497.1,442.8 L497.4,443.6 L497.6,444.4 L497.9,445.1 L498.2,445.9 L498.4,446.7 L498.7,447.4 L498.9,448.2 L499.2,449.0 L499.4,449.8 L499.6,450.5 L499.9,451.3 L500.1,452.1 L500.4,452.9 L500.6,453.6 L500.9,454.4 L501.1,455.2 L501.3,456.0 L501.6,456.7 L501.8,457.5 L502.0,458.3 L502.3,459.1 L502.5,459.9 L502.7,460.6 L503.0,461.4 L503.2,462.2 L503.4,463.0 L503.7,463.7 L503.9,464.5 L504.1,465.3 L504.4,466.1 L504.6,466.9 L504.8,467.6 L505.0,468.4 L505.3,469.2 L505.5,470.0 L505.7,470.7 L505.9,471.5 L506.2,472.3 L506.4,473.1 L506.6,473.8 L506.8,474.6 L507.1,475.4 L507.3,476.2 L507.5,476.9 L507.7,477.7 L508.0,478.5 L508.2,479.3 L508.4,480.1 L508.7,480.8 L508.9,481.6 L509.1,482.4 L509.3,483.2 L509.6,483.9 L509.8,484.7 L510.0,485.5 L510.2,486.3 L510.5,487.0 L510.7,487.8 L510.9,488.6 L511.2,489.4 L511.4,490.1 L511.6,490.9 L511.8,491.7 L512.1,492.5 L512.3,493.2 L512.5,494.0 L512.8,494.8 L513.0,495.6 L513.2,496.3 L513.5,497.1 L513.7,497.9 L514.0,498.7 L514.2,499.4 L514.4,500.2 L514.7,501.0 L514.9,501.8 L515.2,502.5 L515.4,503.3 L515.6,504.1 L515.9,504.9 L516.1,505.6 L516.4,506.4 L516.6,507.2 L516.9,508.0 L517.1,508.7 L517.4,509.5 L517.7,510.3 L517.9,511.1 L518.2,511.8 L518.4,512.6 L518.7,513.4 L519.0,514.1 L519.3,514.9 L519.5,515.7 L519.8,516.4 L520.1,517.2 L520.4,517.9 L520.7,518.7 L521.1,519.4 L521.4,520.2 L521.7,520.9 L522.1,521.6 L522.4,522.3 L522.8,523.1 L523.1,523.8 L523.5,524.5 L524.0,525.3 L524.4,526.1 L524.9,526.9 L525.4,527.7 L525.9,528.5 L526.5,529.2 L527.0,530.0 L527.5,530.6 L528.0,531.2 L528.5,531.8 L529.1,532.4 L529.6,533.0 L530.2,533.6 L530.8,534.2 L531.4,534.7 L532.0,535.3 L532.6,535.8 L533.2,536.4 L533.9,536.9 L534.5,537.4 L535.2,537.8 L535.9,538.3 L536.6,538.8 L537.3,539.2 L538.0,539.7 L538.7,540.1 L539.4,540.5 L540.1,540.8 L540.8,541.2 L541.6,541.8 L542.3,542.4 L543.1,542.9 L543.8,543.4 L544.6,543.9 L545.4,544.4 L546.1,544.9 L546.9,545.4 L547.7,545.7 L548.4,545.9 L549.2,546.1 L550.0,546.3 L550.8,546.6 L551.6,546.7 L552.4,546.9 L553.2,547.1 L553.9,547.3 L554.7,547.5 L555.5,547.6 L556.3,547.8 L557.1,547.9 L557.9,548.1 L558.7,548.2 L559.6,548.3 L560.4,548.4 L561.2,548.5 L562.0,548.6 L562.8,548.7 L563.6,548.8 L564.4,548.9 L565.2,549.0 L566.0,549.1 L566.8,549.1 L567.6,549.2 L568.4,549.3 L569.2,549.3 L570.0,549.4 L570.9,549.5 L571.7,549.5 L572.5,549.6 L573.3,549.6 L574.1,549.6 L574.9,549.7 L575.7,549.7 L576.5,549.8 L577.3,549.8 L578.1,549.9 L578.9,549.9 L579.7,549.9 L580.6,550.0 L581.4,550.0 L582.2,550.0 L583.0,550.1 L583.8,550.1 L584.6,550.2 L585.4,550.2 L586.2,550.2 L587.0,550.3 L587.8,550.3 L588.7,550.3 L589.5,550.4 L590.3,550.4 L591.1,550.4 L591.9,550.5 L592.7,550.5 L593.5,550.5 L594.3,550.6 L595.1,550.6 L595.9,550.6 L596.8,550.7 L597.6,550.7 L598.4,550.7 L599.2,550.8 L600.0,550.8 L600.8,550.8 L601.6,550.8 L602.4,550.9 L603.2,550.9 L604.0,550.9 L604.9,551.0 L605.7,551.0 L606.5,551.0 L607.3,551.0 L608.1,551.1 L608.9,551.1 L609.7,551.1 L610.5,551.1 L611.3,551.2 L612.1,551.2 L613.0,551.2 L613.8,551.2 L614.6,551.3 L615.4,551.3 L616.2,551.3 L617.0,551.3 L617.8,551.4 L618.6,551.4 L619.4,551.4 L620.2,551.4 L621.1,551.4 L621.9,551.5 L622.7,551.5 L623.5,551.5 L624.3,551.5 L625.1,551.5 L625.9,551.6 L626.7,551.6 L627.5,551.6 L628.3,551.6 L629.1,551.7 L630.0,551.7 L630.8,551.7 L631.6,551.7 L632.4,551.7 L633.2,551.7 L634.0,551.8 L634.8,551.8 L635.6,551.8 L636.4,551.8 L637.2,551.8 L638.1,551.9 L638.9,551.9 L639.7,551.9 L640.5,551.9 L641.3,551.9 L642.1,551.9 L642.9,552.0 L643.7,552.0 L644.5,552.0 L645.3,552.0 L646.2,552.0 L647.0,552.0 L647.8,552.1 L648.6,552.1 L649.4,552.1 L650.2,552.1 L651.0,552.1 L651.8,552.1 L652.6,552.2 L653.4,552.2 L654.3,552.2 L655.1,552.2 L655.9,552.2 L656.7,552.2 L657.5,552.2 L658.3,552.3 L659.1,552.3 L659.9,552.3 L660.7,552.3 L661.6,552.3 L662.4,552.3 L663.2,552.4 L664.0,552.4 L664.8,552.4 L665.6,552.4 L666.4,552.4 L667.2,552.4 L668.0,552.4 L668.8,552.5 L669.7,552.5 L670.5,552.5 L671.3,552.5 L672.1,552.5 L672.9,552.5 L673.7,552.5 L674.5,552.6 L675.3,552.6 L676.0,552.6" stroke="#0f6eb9" stroke-width="4.2" fill="none" stroke-linejoin="round" stroke-linecap="butt"/>
<path d="M24.5,553.4 L25.3,553.4 L26.2,553.4 L27.0,553.4 L27.8,553.3 L28.7,553.2 L29.5,553.2 L30.4,553.2 L31.2,553.1 L32.1,553.1 L32.9,553.1 L33.8,553.1 L34.6,553.0 L35.5,553.0 L36.3,553.0 L37.2,553.1 L38.0,553.1 L38.9,553.1 L39.7,553.1 L40.6,553.1 L41.5,553.1 L42.3,553.1 L43.2,553.1 L44.0,553.2 L44.9,553.2 L45.7,553.2 L46.6,553.2 L47.4,553.2 L48.3,553.2 L49.1,553.2 L50.0,553.2 L50.8,553.1 L51.6,553.1 L52.5,553.1 L53.3,553.0 L54.2,553.0 L55.0,552.9 L55.8,552.9 L56.7,552.8 L57.5,552.7 L58.3,552.6 L59.1,552.5 L60.0,552.4 L60.8,552.2 L61.6,552.1 L62.4,551.9 L63.2,551.8 L64.0,551.6 L64.8,551.4 L65.6,551.2 L66.4,551.0 L67.2,550.7 L68.0,550.5 L68.8,550.2 L69.5,550.0 L70.3,549.7 L71.1,549.4 L71.8,549.1 L72.6,548.7 L73.4,548.4 L74.1,548.0 L74.8,547.6 L75.6,547.3 L76.3,546.8 L77.0,546.4 L77.8,546.0 L78.5,545.5 L79.2,545.0 L79.9,544.5 L80.6,544.0 L81.3,543.5 L82.0,543.0 L82.7,542.5 L83.4,542.0 L84.1,541.4 L84.8,540.9 L85.5,540.3 L86.1,539.8 L86.8,539.2 L87.5,538.7 L88.1,538.2 L88.8,537.6 L89.4,537.1 L90.1,536.6 L90.8,536.1 L91.5,535.7 L92.2,535.3 L92.9,534.8 L93.6,534.3 L94.3,533.8 L95.0,533.3 L95.7,532.9 L96.4,532.4 L97.1,532.0 L97.9,531.5 L98.6,531.1 L99.3,530.7 L100.1,530.3 L100.8,530.0 L101.6,529.6 L102.3,529.3 L103.1,529.0 L103.8,528.7 L104.6,528.4 L105.4,528.2 L106.2,527.9 L107.0,527.7 L107.8,527.5 L108.6,527.3 L109.4,527.1 L110.2,527.0 L111.1,526.9 L111.9,526.7 L112.7,526.6 L113.6,526.5 L114.4,526.5 L115.3,526.4 L116.1,526.3 L117.0,526.3 L117.8,526.3 L118.7,526.2 L119.5,526.2 L120.4,526.2 L121.2,526.2 L122.1,526.2 L123.0,526.3 L123.8,526.3 L124.7,526.3 L125.6,526.3 L126.4,526.4 L127.3,526.4 L128.2,526.5 L129.0,526.5 L129.9,526.6 L130.7,526.7 L131.6,526.7 L132.5,526.8 L133.3,526.9 L134.2,526.9 L135.0,527.0 L135.9,527.1 L136.7,527.2 L137.5,527.2 L138.4,527.3 L139.2,527.4 L140.1,527.5 L140.9,527.6 L141.7,527.7 L142.5,527.9 L143.4,528.0 L144.2,528.1 L145.0,528.3 L145.8,528.4 L146.6,528.6 L147.4,528.8 L148.2,528.9 L149.0,529.1 L149.8,529.3 L150.6,529.6 L151.4,529.8 L152.2,530.0 L153.0,530.3 L153.8,530.6 L154.6,530.8 L155.3,531.1 L156.1,531.4 L156.9,531.7 L157.6,532.1 L158.4,532.4 L159.2,532.7 L159.9,533.1 L160.7,533.5 L161.4,533.8 L162.2,534.2 L162.9,534.6 L163.7,535.0 L164.4,535.4 L165.2,535.8 L165.9,536.2 L166.7,536.7 L167.4,537.1 L168.1,537.5 L168.9,537.9 L169.6,538.4 L170.4,538.8 L171.1,539.2 L171.9,539.6 L172.6,540.0 L173.4,540.5 L174.1,540.9 L174.9,541.3 L175.6,541.7 L176.4,542.0 L177.1,542.4 L177.9,542.8 L178.7,543.1 L179.4,543.5 L180.2,543.8 L181.0,544.1 L181.8,544.4 L182.6,544.7 L183.4,545.0 L184.2,545.3 L185.0,545.5 L185.8,545.8 L186.6,546.0 L187.4,546.3 L188.2,546.5 L189.0,546.7 L189.8,546.9 L190.6,547.1 L191.4,547.3 L192.3,547.5 L193.1,547.6 L193.9,547.8 L194.7,548.0 L195.6,548.1 L196.4,548.3 L197.2,548.4 L198.0,548.5 L198.9,548.7 L199.7,548.8 L200.5,548.9 L201.4,549.0 L202.2,549.1 L203.1,549.3 L203.9,549.4 L204.7,549.5 L205.6,549.6 L206.4,549.7 L207.2,549.8 L208.1,549.8 L208.9,549.9 L209.8,550.0 L210.6,550.1 L211.4,550.2 L212.3,550.3 L213.1,550.3 L214.0,550.4 L214.8,550.5 L215.6,550.5 L216.5,550.6 L217.3,550.7 L218.2,550.7 L219.0,550.8 L219.9,550.8 L220.7,550.9 L221.5,550.9 L222.4,551.0 L223.2,551.0 L224.1,551.1 L224.9,551.1 L225.8,551.2 L226.6,551.2 L227.5,551.2 L228.3,551.3 L229.1,551.3 L230.0,551.3 L230.8,551.4 L231.7,551.4 L232.5,551.4 L233.4,551.4 L234.2,551.5 L235.1,551.5 L235.9,551.5 L236.8,551.5 L237.6,551.6 L238.5,551.6 L239.3,551.6 L240.2,551.6 L241.0,551.6 L241.8,551.6 L242.7,551.7 L243.5,551.7 L244.4,551.7 L245.2,551.7 L246.1,551.7 L246.9,551.7 L247.8,551.7 L248.6,551.7 L249.5,551.7 L250.3,551.8 L251.2,551.8 L252.0,551.8 L252.9,551.8 L253.7,551.8 L254.6,551.8 L255.4,551.8 L256.2,551.8 L257.1,551.8 L257.9,551.8 L258.8,551.8 L259.6,551.8 L260.5,551.9 L261.3,551.9 L262.2,551.9 L263.0,551.9 L263.9,551.9 L264.7,551.9 L265.6,551.9 L266.4,551.9 L267.2,551.9 L268.1,551.9 L268.9,551.9 L269.8,551.9 L270.6,551.9 L271.5,552.0 L272.3,552.0 L273.2,552.0 L274.0,552.0 L274.9,552.0 L275.7,552.0 L276.5,552.0 L277.4,552.0 L278.2,552.0 L279.1,552.0 L279.9,552.0 L280.8,552.0 L281.6,552.0 L282.5,552.1 L283.3,552.1 L284.1,552.1 L285.0,552.1 L285.8,552.1 L286.7,552.1 L287.5,552.1 L288.4,552.1 L289.2,552.1 L290.1,552.1 L290.9,552.1 L291.7,552.1 L292.6,552.1 L293.4,552.1 L294.3,552.1 L295.1,552.2 L296.0,552.2 L296.8,552.2 L297.6,552.2 L298.5,552.2 L299.3,552.2 L300.2,552.2 L301.0,552.2 L301.9,552.2 L302.7,552.2 L303.6,552.2 L304.4,552.2 L305.2,552.2 L306.1,552.2 L306.9,552.2 L307.8,552.2 L308.6,552.2 L309.5,552.2 L310.3,552.2 L311.2,552.3 L312.0,552.3 L312.8,552.3 L313.7,552.3 L314.5,552.3 L315.4,552.3 L316.2,552.3 L317.1,552.3 L317.9,552.3 L318.8,552.3 L319.6,552.3 L320.5,552.3 L321.3,552.3 L322.1,552.3 L323.0,552.3 L323.8,552.3 L324.7,552.3 L325.5,552.3 L326.4,552.3 L327.2,552.3 L328.1,552.3 L328.9,552.3 L329.8,552.3 L330.6,552.3 L331.4,552.3 L332.3,552.3 L333.1,552.3 L334.0,552.3 L334.8,552.3 L335.7,552.3 L336.5,552.3 L337.4,552.3 L338.2,552.3 L339.1,552.3 L339.9,552.3 L340.8,552.3 L341.6,552.3 L342.5,552.3 L343.3,552.3 L344.2,552.3 L345.0,552.3 L345.8,552.3 L346.7,552.3 L347.5,552.3 L348.4,552.3 L349.2,552.3 L350.1,552.3 L350.9,552.3 L351.8,552.3 L352.6,552.3 L353.5,552.3 L354.3,552.3 L355.2,552.3 L356.0,552.3 L356.9,552.3 L357.7,552.3 L358.6,552.3 L359.4,552.3 L360.3,552.4 L361.1,552.4 L362.0,552.4 L362.8,552.4 L363.7,552.4 L364.5,552.4 L365.4,552.4 L366.2,552.4 L367.1,552.4 L367.9,552.4 L368.8,552.5 L369.6,552.5 L370.5,552.5 L371.3,552.5 L372.2,552.5 L373.0,552.5 L373.8,552.5 L374.7,552.4 L375.5,552.4 L376.3,552.4 L377.2,552.4 L378.0,552.4 L378.8,552.4 L379.6,552.4 L380.5,552.3 L381.3,552.3 L382.1,552.2 L382.9,552.2 L383.7,552.1 L384.5,552.0 L385.3,551.9 L386.1,551.7 L386.9,551.6 L387.7,551.4 L388.5,551.2 L389.3,550.9 L390.1,550.7 L390.9,550.4 L391.6,550.1 L392.4,549.8 L393.2,549.4 L393.9,549.0 L394.7,548.7 L395.5,548.2 L396.2,547.8 L397.0,547.3 L397.6,546.9 L398.3,546.5 L399.0,546.0 L399.7,545.5 L400.3,545.1 L401.0,544.6 L401.6,544.1 L402.3,543.6 L403.0,543.1 L403.6,542.6 L404.3,542.1 L404.9,541.6 L405.6,541.1 L406.2,540.6 L406.9,540.1 L407.5,539.6 L408.1,539.1 L408.9,538.6 L409.6,538.0 L410.3,537.5 L411.0,537.0 L411.7,536.5 L412.4,536.0 L413.1,535.5 L413.8,535.0 L414.5,534.4 L415.2,533.9 L415.9,533.4 L416.6,532.9 L417.3,532.4 L418.0,531.9 L418.8,531.5 L419.6,531.2 L420.4,530.9 L421.2,530.7 L421.9,530.3 L422.6,529.8 L423.4,529.4 L424.1,529.0 L424.9,528.6 L425.6,528.3 L426.4,527.9 L427.2,527.5 L427.9,527.2 L428.7,526.9 L429.5,526.5 L430.3,526.2 L431.1,525.9 L431.9,525.6 L432.7,525.4 L433.5,525.1 L434.3,524.8 L435.1,524.6 L435.9,524.3 L436.7,524.1 L437.5,523.9 L438.4,523.7 L439.2,523.5 L440.0,523.3 L440.8,523.1 L441.6,523.0 L442.5,522.8 L443.3,522.7 L444.1,522.5 L445.0,522.4 L445.8,522.3 L446.6,522.2 L447.5,522.1 L448.3,522.0 L449.1,521.9 L450.0,521.8 L450.8,521.8 L451.6,521.7 L452.5,521.7 L453.3,521.6 L454.1,521.6 L455.0,521.6 L455.8,521.6 L456.7,521.6 L457.5,521.6 L458.3,521.6 L459.2,521.6 L460.0,521.7 L460.9,521.7 L461.7,521.7 L462.5,521.8 L463.4,521.9 L464.2,521.9 L465.1,522.0 L465.9,522.1 L466.7,522.2 L467.6,522.3 L468.4,522.4 L469.2,522.5 L470.1,522.6 L470.9,522.8 L471.7,522.9 L472.6,523.1 L473.4,523.2 L474.2,523.4 L475.1,523.5 L475.9,523.7 L476.7,523.9 L477.6,524.1 L478.4,524.3 L479.2,524.5 L480.0,524.7 L480.9,524.9 L481.7,525.1 L482.5,525.3 L483.3,525.5 L484.1,525.8 L484.9,526.0 L485.8,526.3 L486.6,526.5 L487.4,526.8 L488.2,527.0 L489.0,527.3 L489.8,527.6 L490.6,527.9 L491.4,528.1 L492.2,528.4 L493.0,528.7 L493.8,529.0 L494.6,529.3 L495.4,529.6 L496.1,530.0 L496.9,530.3 L497.7,530.6 L498.5,530.9 L499.2,531.3 L500.0,531.6 L500.8,531.9 L501.5,532.3 L502.3,532.6 L503.1,533.0 L503.8,533.3 L504.6,533.7 L505.3,534.1 L506.1,534.4 L506.8,534.8 L507.6,535.2 L508.3,535.6 L509.1,535.9 L509.8,536.3 L510.6,536.7 L511.3,537.1 L512.1,537.5 L512.8,537.9 L513.5,538.3 L514.3,538.7 L515.0,539.1 L515.8,539.5 L516.5,539.9 L517.2,540.3 L518.0,540.8 L518.7,541.2 L519.5,541.6 L520.2,542.0 L521.0,542.4 L521.7,542.8 L522.5,543.2 L523.2,543.5 L524.0,543.9 L524.7,544.3 L525.5,544.6 L526.2,545.0 L527.0,545.3 L527.8,545.7 L528.5,546.0 L529.3,546.3 L530.1,546.6 L530.9,546.9 L531.7,547.1 L532.5,547.4 L533.2,547.6 L534.0,547.9 L534.8,548.1 L535.6,548.3 L536.4,548.5 L537.2,548.7 L538.0,548.9 L538.9,549.1 L539.7,549.3 L540.5,549.5 L541.3,549.6 L542.1,549.8 L542.9,549.9 L543.8,550.1 L544.6,550.2 L545.4,550.3 L546.2,550.5 L547.1,550.6 L547.9,550.7 L548.7,550.8 L549.6,550.9 L550.4,551.0 L551.2,551.1 L552.1,551.1 L552.9,551.2 L553.7,551.3 L554.6,551.3 L555.4,551.4 L556.3,551.5 L557.1,551.5 L558.0,551.6 L558.8,551.6 L559.7,551.7 L560.5,551.7 L561.4,551.7 L562.2,551.8 L563.1,551.8 L563.9,551.8 L564.8,551.9 L565.6,551.9 L566.5,551.9 L567.3,551.9 L568.2,551.9 L569.0,552.0 L569.9,552.0 L570.7,552.0 L571.6,552.0 L572.4,552.1 L573.3,552.1 L574.1,552.1 L575.0,552.1 L575.8,552.1 L576.7,552.1 L577.5,552.2 L578.3,552.2 L579.2,552.2 L580.0,552.2 L580.9,552.2 L581.7,552.2 L582.6,552.3 L583.4,552.3 L584.3,552.3 L585.1,552.3 L586.0,552.3 L586.8,552.3 L587.7,552.4 L588.5,552.4 L589.4,552.4 L590.2,552.4 L591.1,552.4 L591.9,552.4 L592.7,552.4 L593.6,552.4 L594.4,552.5 L595.3,552.5 L596.1,552.5 L597.0,552.5 L597.8,552.5 L598.7,552.5 L599.5,552.5 L600.4,552.5 L601.2,552.5 L602.0,552.6 L602.9,552.6 L603.7,552.6 L604.6,552.6 L605.4,552.6 L606.3,552.6 L607.1,552.6 L608.0,552.6 L608.8,552.6 L609.7,552.6 L610.5,552.6 L611.3,552.6 L612.2,552.7 L613.0,552.7 L613.9,552.7 L614.7,552.7 L615.6,552.7 L616.4,552.7 L617.3,552.7 L618.1,552.7 L618.9,552.7 L619.8,552.7 L620.6,552.7 L621.5,552.7 L622.3,552.7 L623.2,552.7 L624.0,552.7 L624.8,552.7 L625.7,552.7 L626.5,552.8 L627.4,552.8 L628.2,552.8 L629.1,552.8 L629.9,552.8 L630.8,552.8 L631.6,552.8 L632.4,552.8 L633.3,552.8 L634.1,552.8 L635.0,552.8 L635.8,552.8 L636.7,552.8 L637.5,552.8 L638.4,552.8 L639.2,552.8 L640.0,552.8 L640.9,552.8 L641.7,552.8 L642.6,552.8 L643.4,552.8 L644.3,552.8 L645.1,552.8 L646.0,552.8 L646.8,552.8 L647.7,552.9 L648.5,552.9 L649.3,552.9 L650.2,552.9 L651.0,552.9 L651.9,552.9 L652.7,552.9 L653.6,552.9 L654.4,552.9 L655.3,552.9 L656.1,552.9 L657.0,552.9 L657.8,552.9 L658.7,552.9 L659.5,552.9 L660.3,552.9 L661.2,552.9 L662.0,552.9 L662.9,552.9 L663.7,552.9 L664.6,552.9 L665.4,552.9 L666.3,552.9 L667.1,552.9 L668.0,553.0 L668.8,553.0 L669.7,553.0 L670.5,553.0 L671.4,553.0 L672.2,553.0 L673.1,553.0 L673.9,553.0 L674.8,553.0 L675.6,553.0 L676.1,553.0" stroke="#ec6d36" stroke-width="4.2" fill="none" stroke-linejoin="round" stroke-linecap="butt"/>
<path d="M24.6,553.0 L25.4,553.0 L26.3,553.0 L27.1,553.0 L28.0,552.9 L28.8,552.8 L29.7,552.8 L30.5,552.7 L31.4,552.7 L32.2,552.7 L33.1,552.7 L34.0,552.7 L34.8,552.6 L35.7,552.6 L36.6,552.6 L37.4,552.7 L38.3,552.7 L39.2,552.7 L40.1,552.7 L40.9,552.7 L41.8,552.7 L42.7,552.7 L43.6,552.7 L44.4,552.8 L45.3,552.8 L46.2,552.8 L47.0,552.8 L47.9,552.8 L48.8,552.8 L49.7,552.8 L50.5,552.7 L51.4,552.7 L52.3,552.7 L53.1,552.6 L54.0,552.6 L54.9,552.5 L55.7,552.5 L56.6,552.4 L57.4,552.3 L58.3,552.2 L59.1,552.1 L60.0,552.0 L60.8,551.8 L61.7,551.7 L62.5,551.5 L63.3,551.3 L64.1,551.2 L65.0,551.0 L65.8,550.7 L66.6,550.5 L67.4,550.3 L68.2,550.0 L69.0,549.8 L69.8,549.5 L70.6,549.2 L71.4,548.9 L72.2,548.5 L72.9,548.2 L73.7,547.8 L74.5,547.4 L75.2,547.0 L76.0,546.6 L76.7,546.2 L77.4,545.8 L78.2,545.3 L78.9,544.8 L79.6,544.3 L80.3,543.8 L81.0,543.3 L81.7,542.8 L82.4,542.3 L83.1,541.8 L83.8,541.2 L84.5,540.7 L85.2,540.2 L85.9,539.6 L86.5,539.1 L87.2,538.5 L87.9,538.0 L88.6,537.4 L89.2,536.8 L89.9,536.3 L90.6,535.7 L91.2,535.1 L91.9,534.5 L92.6,534.0 L93.2,533.4 L93.9,532.8 L94.5,532.2 L95.2,531.6 L95.8,531.0 L96.5,530.4 L97.1,529.8 L97.8,529.2 L98.4,528.7 L99.1,528.1 L99.8,527.5 L100.4,527.0 L101.1,526.4 L101.8,525.9 L102.5,525.4 L103.2,524.8 L103.9,524.4 L104.6,523.9 L105.3,523.4 L106.0,523.0 L106.8,522.5 L107.5,522.1 L108.2,521.7 L109.0,521.3 L109.7,520.9 L110.5,520.6 L111.3,520.2 L112.0,519.9 L112.8,519.6 L113.6,519.2 L114.4,518.9 L115.2,518.7 L116.0,518.4 L116.8,518.1 L117.6,517.9 L118.4,517.7 L119.2,517.4 L120.1,517.2 L120.9,517.1 L121.7,516.9 L122.5,516.7 L123.4,516.6 L124.2,516.4 L125.1,516.3 L125.9,516.2 L126.8,516.1 L127.6,516.0 L128.5,515.9 L129.3,515.8 L130.2,515.8 L131.1,515.7 L131.9,515.7 L132.8,515.7 L133.7,515.6 L134.6,515.6 L135.4,515.7 L136.3,515.7 L137.2,515.7 L138.1,515.8 L139.0,515.8 L139.8,515.9 L140.7,516.0 L141.6,516.1 L142.5,516.2 L143.4,516.3 L144.2,516.4 L145.1,516.5 L146.0,516.7 L146.8,516.9 L147.7,517.0 L148.5,517.2 L149.4,517.4 L150.2,517.7 L151.1,517.9 L151.9,518.2 L152.7,518.4 L153.5,518.7 L154.3,519.0 L155.1,519.3 L155.9,519.6 L156.7,519.9 L157.4,520.3 L158.2,520.6 L159.0,521.0 L159.7,521.4 L160.5,521.8 L161.2,522.2 L161.9,522.6 L162.7,523.0 L163.4,523.5 L164.1,523.9 L164.8,524.4 L165.5,524.9 L166.3,525.4 L167.0,525.8 L167.7,526.3 L168.4,526.8 L169.1,527.4 L169.7,527.9 L170.4,528.4 L171.1,528.9 L171.8,529.4 L172.5,530.0 L173.2,530.5 L173.9,531.0 L174.6,531.6 L175.3,532.1 L176.0,532.6 L176.7,533.1 L177.4,533.6 L178.1,534.1 L178.8,534.6 L179.5,535.1 L180.3,535.6 L181.0,536.0 L181.7,536.5 L182.4,537.0 L183.2,537.4 L183.9,537.8 L184.7,538.2 L185.5,538.6 L186.2,539.0 L187.0,539.4 L187.8,539.7 L188.6,540.1 L189.4,540.4 L190.2,540.7 L191.0,541.0 L191.8,541.3 L192.6,541.6 L193.4,541.9 L194.2,542.2 L195.0,542.5 L195.8,542.7 L196.7,543.0 L197.5,543.2 L198.3,543.5 L199.2,543.7 L200.0,543.9 L200.8,544.1 L201.7,544.3 L202.5,544.5 L203.4,544.7 L204.2,544.9 L205.1,545.1 L205.9,545.3 L206.8,545.5 L207.6,545.6 L208.5,545.8 L209.3,546.0 L210.2,546.1 L211.0,546.3 L211.9,546.5 L212.8,546.6 L213.6,546.8 L214.5,546.9 L215.3,547.0 L216.2,547.2 L217.0,547.3 L217.9,547.4 L218.7,547.6 L219.6,547.7 L220.5,547.8 L221.3,547.9 L222.2,548.1 L223.0,548.2 L223.9,548.3 L224.7,548.4 L225.6,548.5 L226.5,548.6 L227.3,548.7 L228.2,548.8 L229.0,548.9 L229.9,549.0 L230.8,549.1 L231.6,549.2 L232.5,549.3 L233.3,549.3 L234.2,549.4 L235.1,549.5 L235.9,549.6 L236.8,549.6 L237.6,549.7 L238.5,549.8 L239.4,549.9 L240.2,549.9 L241.1,550.0 L241.9,550.1 L242.8,550.1 L243.7,550.2 L244.5,550.2 L245.4,550.3 L246.3,550.3 L247.1,550.4 L248.0,550.5 L248.8,550.5 L249.7,550.6 L250.6,550.6 L251.4,550.6 L252.3,550.7 L253.2,550.7 L254.0,550.8 L254.9,550.8 L255.7,550.9 L256.6,550.9 L257.5,550.9 L258.3,551.0 L259.2,551.0 L260.1,551.0 L260.9,551.1 L261.8,551.1 L262.7,551.1 L263.5,551.2 L264.4,551.2 L265.2,551.2 L266.1,551.3 L267.0,551.3 L267.8,551.3 L268.7,551.4 L269.6,551.4 L270.4,551.4 L271.3,551.4 L272.2,551.4 L273.0,551.5 L273.9,551.5 L274.8,551.5 L275.6,551.5 L276.5,551.6 L277.4,551.6 L278.2,551.6 L279.1,551.6 L279.9,551.6 L280.8,551.6 L281.7,551.7 L282.5,551.7 L283.4,551.7 L284.3,551.7 L285.1,551.7 L286.0,551.7 L286.9,551.7 L287.7,551.8 L288.6,551.8 L289.5,551.8 L290.3,551.8 L291.2,551.8 L292.1,551.8 L292.9,551.8 L293.8,551.8 L294.7,551.8 L295.5,551.8 L296.4,551.8 L297.3,551.8 L298.1,551.9 L299.0,551.9 L299.8,551.9 L300.7,551.9 L301.6,551.9 L302.4,551.9 L303.3,551.9 L304.2,551.9 L305.0,551.9 L305.9,551.9 L306.8,551.9 L307.6,551.9 L308.5,551.9 L309.4,551.9 L310.2,551.9 L311.1,551.9 L312.0,551.9 L312.8,551.9 L313.7,551.9 L314.6,551.9 L315.4,551.9 L316.3,551.9 L317.2,551.9 L318.0,551.9 L318.9,551.9 L319.8,551.9 L320.6,551.9 L321.5,551.9 L322.4,551.9 L323.2,551.9 L324.1,551.9 L324.9,551.9 L325.8,551.9 L326.7,551.9 L327.5,551.9 L328.4,551.9 L329.3,551.9 L330.1,551.9 L331.0,551.9 L331.9,551.9 L332.7,551.9 L333.6,551.9 L334.5,551.9 L335.3,551.9 L336.2,551.9 L337.1,551.9 L337.9,551.9 L338.8,551.9 L339.7,551.9 L340.5,551.9 L341.4,551.9 L342.3,551.9 L343.1,551.9 L344.0,551.9 L344.8,551.9 L345.7,551.9 L346.6,551.9 L347.4,551.9 L348.3,551.9 L349.2,551.9 L350.0,551.9 L350.9,551.9 L351.8,551.9 L352.6,551.9 L353.5,552.0 L354.4,552.0 L355.2,552.0 L356.1,552.0 L356.9,552.0 L357.8,552.0 L358.7,552.0 L359.5,552.0 L360.4,552.0 L361.3,552.0 L362.1,552.0 L363.0,552.0 L363.9,552.0 L364.7,552.0 L365.6,552.0 L366.5,552.0 L367.3,552.0 L368.2,552.1 L369.1,552.1 L369.9,552.1 L370.8,552.1 L371.7,552.1 L372.5,552.1 L373.4,552.1 L374.3,552.1 L375.1,552.0 L376.0,552.0 L376.9,552.0 L377.7,552.0 L378.6,552.0 L379.5,552.0 L380.3,551.9 L381.2,551.9 L382.1,551.8 L382.9,551.8 L383.8,551.7 L384.6,551.6 L385.5,551.4 L386.3,551.3 L387.1,551.1 L387.9,550.9 L388.8,550.7 L389.6,550.5 L390.4,550.2 L391.2,549.9 L391.9,549.6 L392.7,549.2 L393.5,548.9 L394.3,548.5 L395.0,548.1 L395.8,547.7 L396.5,547.2 L397.2,546.8 L398.0,546.3 L398.7,545.8 L399.4,545.3 L400.1,544.8 L400.8,544.3 L401.5,543.8 L402.2,543.2 L402.9,542.7 L403.6,542.2 L404.3,541.6 L405.0,541.1 L405.7,540.6 L406.4,540.0 L407.1,539.5 L407.8,539.0 L408.4,538.5 L409.1,537.9 L409.8,537.4 L410.5,536.9 L411.2,536.4 L411.9,535.9 L412.6,535.4 L413.3,534.9 L414.0,534.4 L414.7,533.9 L415.4,533.4 L416.1,532.9 L416.8,532.4 L417.5,531.9 L418.1,531.3 L418.8,530.8 L419.5,530.3 L420.2,529.8 L420.9,529.2 L421.6,528.7 L422.3,528.1 L423.0,527.6 L423.6,527.0 L424.3,526.4 L425.0,525.9 L425.7,525.3 L426.4,524.8 L427.1,524.2 L427.8,523.7 L428.5,523.2 L429.2,522.6 L429.9,522.1 L430.6,521.6 L431.3,521.1 L432.0,520.6 L432.7,520.1 L433.4,519.6 L434.2,519.1 L434.9,518.7 L435.6,518.2 L436.4,517.8 L437.1,517.4 L437.9,517.0 L438.6,516.6 L439.4,516.2 L440.2,515.8 L440.9,515.5 L441.7,515.1 L442.5,514.8 L443.3,514.4 L444.0,514.1 L444.8,513.8 L445.6,513.5 L446.4,513.3 L447.2,513.0 L448.0,512.7 L448.8,512.5 L449.7,512.2 L450.5,512.0 L451.3,511.8 L452.1,511.6 L452.9,511.4 L453.8,511.2 L454.6,511.0 L455.4,510.9 L456.3,510.7 L457.1,510.6 L458.0,510.4 L458.8,510.3 L459.7,510.2 L460.5,510.1 L461.4,510.0 L462.2,509.9 L463.1,509.9 L464.0,509.8 L464.8,509.8 L465.7,509.7 L466.6,509.7 L467.4,509.7 L468.3,509.7 L469.2,509.7 L470.1,509.7 L470.9,509.7 L471.8,509.7 L472.7,509.8 L473.6,509.8 L474.5,509.9 L475.3,510.0 L476.2,510.1 L477.1,510.2 L478.0,510.3 L478.8,510.4 L479.7,510.5 L480.6,510.7 L481.4,510.8 L482.3,511.0 L483.2,511.2 L484.0,511.4 L484.9,511.6 L485.7,511.8 L486.6,512.0 L487.4,512.3 L488.2,512.5 L489.1,512.8 L489.9,513.1 L490.7,513.4 L491.5,513.7 L492.3,514.0 L493.1,514.3 L493.9,514.6 L494.7,515.0 L495.4,515.4 L496.2,515.7 L497.0,516.1 L497.7,516.5 L498.5,516.9 L499.2,517.4 L499.9,517.8 L500.6,518.3 L501.4,518.7 L502.1,519.2 L502.8,519.6 L503.5,520.1 L504.2,520.6 L504.9,521.1 L505.6,521.6 L506.3,522.1 L507.0,522.6 L507.7,523.1 L508.4,523.6 L509.1,524.1 L509.8,524.6 L510.5,525.1 L511.2,525.6 L511.9,526.1 L512.6,526.6 L513.3,527.1 L514.0,527.6 L514.7,528.1 L515.4,528.6 L516.1,529.1 L516.8,529.5 L517.5,530.0 L518.2,530.5 L519.0,531.0 L519.7,531.5 L520.4,531.9 L521.1,532.4 L521.9,532.9 L522.6,533.3 L523.4,533.8 L524.1,534.2 L524.8,534.7 L525.6,535.1 L526.3,535.6 L527.1,536.0 L527.8,536.4 L528.6,536.8 L529.4,537.2 L530.1,537.7 L530.9,538.1 L531.7,538.5 L532.4,538.8 L533.2,539.2 L534.0,539.6 L534.8,540.0 L535.5,540.3 L536.3,540.7 L537.1,541.0 L537.9,541.4 L538.7,541.7 L539.5,542.0 L540.3,542.4 L541.1,542.7 L541.9,543.0 L542.7,543.3 L543.6,543.6 L544.4,543.8 L545.2,544.1 L546.0,544.4 L546.8,544.6 L547.7,544.9 L548.5,545.1 L549.3,545.4 L550.1,545.6 L551.0,545.8 L551.8,546.0 L552.6,546.2 L553.5,546.4 L554.3,546.6 L555.2,546.8 L556.0,546.9 L556.9,547.1 L557.7,547.2 L558.6,547.4 L559.4,547.5 L560.3,547.6 L561.1,547.7 L562.0,547.8 L562.8,547.9 L563.7,548.0 L564.5,548.1 L565.4,548.2 L566.3,548.3 L567.1,548.4 L568.0,548.4 L568.8,548.5 L569.7,548.6 L570.6,548.6 L571.4,548.7 L572.3,548.7 L573.2,548.8 L574.0,548.8 L574.9,548.9 L575.8,548.9 L576.6,549.0 L577.5,549.0 L578.4,549.1 L579.2,549.1 L580.1,549.1 L581.0,549.2 L581.8,549.2 L582.7,549.3 L583.5,549.3 L584.4,549.4 L585.3,549.4 L586.1,549.4 L587.0,549.5 L587.9,549.5 L588.7,549.5 L589.6,549.6 L590.5,549.6 L591.3,549.6 L592.2,549.7 L593.1,549.7 L593.9,549.8 L594.8,549.8 L595.7,549.8 L596.5,549.9 L597.4,549.9 L598.3,549.9 L599.1,549.9 L600.0,550.0 L600.8,550.0 L601.7,550.0 L602.6,550.1 L603.4,550.1 L604.3,550.1 L605.2,550.2 L606.0,550.2 L606.9,550.2 L607.8,550.2 L608.6,550.3 L609.5,550.3 L610.4,550.3 L611.2,550.4 L612.1,550.4 L613.0,550.4 L613.8,550.4 L614.7,550.5 L615.5,550.5 L616.4,550.5 L617.3,550.5 L618.1,550.6 L619.0,550.6 L619.9,550.6 L620.7,550.6 L621.6,550.7 L622.5,550.7 L623.3,550.7 L624.2,550.7 L625.1,550.7 L625.9,550.8 L626.8,550.8 L627.6,550.8 L628.5,550.8 L629.4,550.9 L630.2,550.9 L631.1,550.9 L632.0,550.9 L632.8,550.9 L633.7,551.0 L634.6,551.0 L635.4,551.0 L636.3,551.0 L637.2,551.0 L638.0,551.1 L638.9,551.1 L639.8,551.1 L640.6,551.1 L641.5,551.1 L642.3,551.1 L643.2,551.2 L644.1,551.2 L644.9,551.2 L645.8,551.2 L646.7,551.2 L647.5,551.3 L648.4,551.3 L649.3,551.3 L650.1,551.3 L651.0,551.3 L651.9,551.3 L652.7,551.4 L653.6,551.4 L654.5,551.4 L655.3,551.4 L656.2,551.4 L657.1,551.4 L657.9,551.5 L658.8,551.5 L659.6,551.5 L660.5,551.5 L661.4,551.5 L662.2,551.5 L663.1,551.5 L664.0,551.6 L664.8,551.6 L665.7,551.6 L666.6,551.6 L667.4,551.6 L668.3,551.6 L669.2,551.7 L670.0,551.7 L670.9,551.7 L671.8,551.7 L672.6,551.7 L673.5,551.7 L674.4,551.8 L675.2,551.8 L676.0,551.8" stroke="#14eb1e" stroke-width="4.2" fill="none" stroke-linejoin="round" stroke-linecap="butt"/>
<path d="M25.0,552.4 L25.8,552.3 L26.7,552.2 L27.5,552.0 L28.4,552.0 L29.2,551.9 L30.0,551.8 L30.9,551.8 L31.7,551.8 L32.6,551.8 L33.4,551.8 L34.3,551.8 L35.2,551.8 L36.0,551.8 L36.9,551.8 L37.8,551.9 L38.7,551.9 L39.5,551.9 L40.3,552.0 L41.1,552.0 L41.9,552.0 L42.7,552.1 L43.6,552.1 L44.4,552.1 L45.2,552.1 L46.0,552.2 L46.8,552.2 L47.6,552.2 L48.4,552.2 L49.2,552.2 L50.0,552.2 L50.8,552.2 L51.7,552.2 L52.6,552.1 L53.5,552.1 L54.4,552.0 L55.3,552.0 L56.1,551.9 L57.0,551.8 L57.8,551.6 L58.7,551.5 L59.5,551.3 L60.3,551.1 L61.1,550.9 L61.9,550.7 L62.7,550.5 L63.5,550.2 L64.3,549.9 L65.0,549.6 L65.7,549.2 L66.4,548.8 L67.1,548.4 L67.8,548.0 L68.5,547.5 L69.1,547.0 L69.7,546.4 L70.4,545.9 L70.9,545.3 L71.5,544.7 L72.1,544.0 L72.6,543.3 L73.2,542.7 L73.7,542.0 L74.2,541.2 L74.7,540.5 L75.2,539.7 L75.6,539.1 L76.0,538.4 L76.4,537.7 L76.8,537.0 L77.2,536.3 L77.6,535.5 L78.0,534.8 L78.4,534.1 L78.7,533.4 L79.1,532.7 L79.5,532.0 L79.8,531.2 L80.2,530.4 L80.6,529.6 L81.0,528.8 L81.4,528.1 L81.8,527.3 L82.2,526.5 L82.6,525.7 L83.0,524.9 L83.3,524.2 L83.7,523.4 L84.1,522.6 L84.5,521.8 L84.8,521.1 L85.2,520.3 L85.6,519.5 L86.0,518.8 L86.4,518.0 L86.7,517.2 L87.1,516.5 L87.5,515.7 L87.9,515.0 L88.3,514.2 L88.7,513.4 L89.1,512.7 L89.5,511.9 L89.9,511.1 L90.3,510.4 L90.7,509.6 L91.1,508.8 L91.5,508.1 L91.9,507.3 L92.3,506.5 L92.8,505.7 L93.2,505.0 L93.7,504.2 L94.1,503.4 L94.6,502.7 L95.0,501.9 L95.5,501.2 L96.0,500.4 L96.5,499.7 L97.0,499.0 L97.5,498.2 L98.0,497.5 L98.6,496.8 L99.1,496.1 L99.7,495.4 L100.3,494.8 L100.8,494.1 L101.4,493.5 L102.0,492.9 L102.7,492.2 L103.3,491.6 L104.0,491.1 L104.6,490.5 L105.3,490.0 L106.0,489.4 L106.7,488.9 L107.4,488.4 L108.1,488.0 L108.8,487.5 L109.6,487.1 L110.3,486.7 L111.1,486.3 L111.9,485.9 L112.6,485.6 L113.4,485.3 L114.2,485.0 L115.0,484.7 L115.8,484.5 L116.7,484.3 L117.5,484.1 L118.3,483.9 L119.2,483.8 L120.0,483.7 L120.9,483.6 L121.7,483.5 L122.6,483.5 L123.5,483.5 L124.3,483.6 L125.2,483.6 L126.1,483.7 L127.0,483.8 L127.9,483.9 L128.7,484.1 L129.6,484.2 L130.5,484.4 L131.3,484.7 L132.2,484.9 L133.1,485.2 L133.9,485.4 L134.8,485.7 L135.6,486.0 L136.4,486.4 L137.2,486.7 L138.1,487.1 L138.9,487.5 L139.6,487.9 L140.4,488.3 L141.2,488.7 L141.9,489.2 L142.7,489.6 L143.4,490.1 L144.1,490.6 L144.8,491.1 L145.5,491.6 L146.2,492.1 L146.8,492.6 L147.5,493.1 L148.1,493.7 L148.8,494.3 L149.4,494.8 L150.0,495.4 L150.6,496.0 L151.2,496.6 L151.8,497.2 L152.4,497.8 L153.0,498.4 L153.6,499.1 L154.2,499.7 L154.7,500.3 L155.3,501.0 L155.8,501.6 L156.4,502.3 L156.9,503.0 L157.5,503.6 L158.0,504.3 L158.5,505.0 L159.1,505.7 L159.6,506.4 L160.1,507.1 L160.6,507.8 L161.1,508.5 L161.6,509.2 L162.1,509.9 L162.7,510.6 L163.2,511.3 L163.7,512.0 L164.2,512.7 L164.6,513.5 L165.1,514.2 L165.6,514.9 L166.1,515.7 L166.6,516.4 L167.1,517.2 L167.6,517.9 L168.0,518.7 L168.5,519.4 L169.0,520.2 L169.5,521.0 L169.9,521.6 L170.3,522.3 L170.7,523.0 L171.2,523.7 L171.6,524.4 L172.0,525.1 L172.4,525.7 L172.9,526.5 L173.4,527.2 L173.9,528.0 L174.4,528.7 L175.0,529.4 L175.5,530.1 L176.0,530.8 L176.6,531.5 L177.2,532.1 L177.8,532.8 L178.4,533.4 L179.0,534.0 L179.6,534.6 L180.3,535.2 L180.9,535.7 L181.6,536.3 L182.3,536.8 L183.0,537.3 L183.7,537.8 L184.4,538.3 L185.1,538.8 L185.8,539.2 L186.6,539.7 L187.3,540.1 L188.1,540.5 L188.8,540.9 L189.6,541.3 L190.4,541.7 L191.2,542.1 L192.0,542.4 L192.8,542.8 L193.6,543.1 L194.4,543.4 L195.2,543.7 L196.0,544.0 L196.8,544.3 L197.6,544.6 L198.4,544.9 L199.3,545.2 L200.1,545.4 L200.9,545.7 L201.7,545.9 L202.6,546.1 L203.4,546.4 L204.2,546.6 L205.1,546.8 L205.9,547.0 L206.8,547.2 L207.6,547.4 L208.4,547.5 L209.3,547.7 L210.1,547.9 L211.0,548.0 L211.8,548.2 L212.7,548.3 L213.5,548.4 L214.4,548.6 L215.3,548.7 L216.1,548.8 L217.0,548.9 L217.8,549.0 L218.7,549.1 L219.6,549.2 L220.4,549.3 L221.3,549.4 L222.2,549.5 L223.0,549.6 L223.9,549.7 L224.8,549.7 L225.6,549.8 L226.5,549.9 L227.4,549.9 L228.3,550.0 L229.1,550.0 L230.0,550.1 L230.9,550.1 L231.8,550.2 L232.6,550.2 L233.5,550.2 L234.4,550.3 L235.3,550.3 L236.1,550.3 L237.0,550.4 L237.9,550.4 L238.8,550.4 L239.7,550.4 L240.5,550.5 L241.4,550.5 L242.3,550.5 L243.2,550.5 L244.0,550.5 L244.9,550.5 L245.8,550.6 L246.7,550.6 L247.6,550.6 L248.4,550.6 L249.3,550.6 L250.2,550.7 L251.1,550.7 L252.0,550.7 L252.8,550.7 L253.7,550.7 L254.6,550.7 L255.5,550.8 L256.3,550.8 L257.2,550.8 L258.1,550.8 L259.0,550.8 L259.8,550.8 L260.7,550.9 L261.6,550.9 L262.5,550.9 L263.3,550.9 L264.2,550.9 L265.1,551.0 L266.0,551.0 L266.8,551.0 L267.7,551.0 L268.6,551.0 L269.4,551.1 L270.3,551.1 L271.2,551.1 L272.1,551.1 L272.9,551.1 L273.8,551.1 L274.7,551.2 L275.6,551.2 L276.4,551.2 L277.3,551.2 L278.2,551.2 L279.0,551.3 L279.9,551.3 L280.8,551.3 L281.7,551.3 L282.5,551.3 L283.4,551.3 L284.3,551.4 L285.1,551.4 L286.0,551.4 L286.9,551.4 L287.8,551.4 L288.6,551.4 L289.5,551.5 L290.4,551.5 L291.2,551.5 L292.1,551.5 L293.0,551.5 L293.8,551.5 L294.7,551.5 L295.6,551.6 L296.5,551.6 L297.3,551.6 L298.2,551.6 L299.1,551.6 L299.9,551.6 L300.8,551.6 L301.7,551.6 L302.5,551.7 L303.4,551.7 L304.3,551.7 L305.2,551.7 L306.0,551.7 L306.9,551.7 L307.8,551.7 L308.6,551.7 L309.5,551.7 L310.4,551.8 L311.2,551.8 L312.1,551.8 L313.0,551.8 L313.9,551.8 L314.7,551.8 L315.6,551.8 L316.5,551.8 L317.3,551.8 L318.2,551.8 L319.1,551.8 L320.0,551.8 L320.8,551.8 L321.7,551.8 L322.6,551.8 L323.4,551.8 L324.3,551.8 L325.2,551.8 L326.1,551.8 L326.9,551.8 L327.8,551.8 L328.7,551.8 L329.5,551.8 L330.4,551.8 L331.3,551.8 L332.2,551.8 L333.0,551.8 L333.9,551.8 L334.8,551.8 L335.7,551.8 L336.5,551.8 L337.4,551.8 L338.3,551.8 L339.2,551.8 L340.0,551.8 L340.9,551.8 L341.8,551.8 L342.7,551.8 L343.5,551.8 L344.4,551.7 L345.3,551.7 L346.2,551.7 L347.0,551.7 L347.9,551.7 L348.8,551.7 L349.7,551.7 L350.5,551.7 L351.4,551.6 L352.3,551.6 L353.2,551.6 L354.1,551.6 L354.9,551.6 L355.8,551.5 L356.7,551.5 L357.6,551.5 L358.5,551.5 L359.3,551.5 L360.2,551.4 L361.1,551.4 L362.0,551.4 L362.9,551.4 L363.7,551.3 L364.6,551.3 L365.5,551.3 L366.4,551.2 L367.3,551.2 L368.1,551.1 L369.0,551.0 L369.9,551.0 L370.7,550.9 L371.6,550.8 L372.5,550.7 L373.3,550.6 L374.2,550.4 L375.0,550.3 L375.9,550.2 L376.7,550.0 L377.5,549.8 L378.4,549.6 L379.2,549.4 L380.0,549.2 L380.8,548.9 L381.6,548.7 L382.4,548.4 L383.2,548.1 L384.0,547.8 L384.8,547.4 L385.6,547.1 L386.4,546.7 L387.1,546.3 L387.9,545.9 L388.6,545.4 L389.3,545.0 L390.1,544.5 L390.8,544.0 L391.5,543.5 L392.2,542.9 L392.9,542.4 L393.5,541.8 L394.2,541.2 L394.9,540.6 L395.5,540.0 L396.1,539.4 L396.7,538.8 L397.3,538.1 L397.9,537.5 L398.5,536.8 L399.1,536.1 L399.6,535.4 L400.1,534.7 L400.7,534.0 L401.2,533.3 L401.7,532.5 L402.1,531.8 L402.6,531.0 L403.0,530.3 L403.5,529.5 L403.9,528.8 L404.3,528.0 L404.7,527.2 L405.1,526.4 L405.5,525.6 L405.9,524.9 L406.3,524.1 L406.7,523.3 L407.1,522.5 L407.5,521.8 L407.9,521.0 L408.3,520.2 L408.7,519.5 L409.1,518.7 L409.5,517.9 L410.0,517.2 L410.4,516.4 L410.8,515.7 L411.2,514.9 L411.6,514.2 L412.0,513.4 L412.4,512.6 L412.8,511.9 L413.3,511.1 L413.7,510.4 L414.1,509.6 L414.5,508.8 L414.9,508.0 L415.3,507.3 L415.7,506.5 L416.2,505.7 L416.6,504.9 L417.0,504.1 L417.4,503.4 L417.9,502.6 L418.3,501.8 L418.7,501.1 L419.2,500.3 L419.6,499.5 L420.1,498.8 L420.6,498.0 L421.0,497.3 L421.5,496.5 L422.0,495.8 L422.5,495.1 L423.0,494.4 L423.5,493.7 L424.1,493.0 L424.6,492.3 L425.2,491.6 L425.7,490.9 L426.3,490.3 L426.9,489.6 L427.5,489.0 L428.1,488.4 L428.7,487.8 L429.4,487.2 L430.0,486.6 L430.7,486.0 L431.4,485.5 L432.1,484.9 L432.8,484.4 L433.5,483.9 L434.2,483.4 L434.9,482.9 L435.7,482.5 L436.4,482.0 L437.2,481.6 L437.9,481.1 L438.7,480.7 L439.5,480.4 L440.3,480.0 L441.1,479.6 L441.9,479.3 L442.7,479.0 L443.5,478.7 L444.3,478.4 L445.1,478.1 L446.0,477.8 L446.8,477.6 L447.6,477.4 L448.5,477.2 L449.3,477.0 L450.2,476.8 L451.0,476.7 L451.9,476.6 L452.7,476.4 L453.6,476.4 L454.4,476.3 L455.3,476.2 L456.1,476.2 L457.0,476.2 L457.9,476.2 L458.7,476.3 L459.6,476.3 L460.4,476.4 L461.3,476.5 L462.1,476.6 L463.0,476.7 L463.8,476.9 L464.6,477.1 L465.5,477.2 L466.3,477.5 L467.2,477.7 L468.0,477.9 L468.8,478.2 L469.6,478.5 L470.4,478.8 L471.3,479.1 L472.1,479.4 L472.9,479.8 L473.7,480.1 L474.5,480.5 L475.3,480.9 L476.1,481.3 L476.8,481.7 L477.6,482.2 L478.4,482.6 L479.1,483.1 L479.9,483.6 L480.6,484.0 L481.4,484.5 L482.1,485.1 L482.9,485.6 L483.6,486.1 L484.3,486.6 L485.0,487.2 L485.7,487.8 L486.4,488.3 L487.1,488.9 L487.8,489.5 L488.4,490.1 L489.1,490.7 L489.7,491.3 L490.4,491.9 L491.0,492.6 L491.6,493.2 L492.2,493.8 L492.8,494.5 L493.4,495.1 L494.0,495.8 L494.6,496.5 L495.1,497.1 L495.7,497.8 L496.3,498.5 L496.8,499.2 L497.3,499.9 L497.9,500.5 L498.4,501.2 L498.9,501.9 L499.4,502.6 L500.0,503.3 L500.5,504.0 L501.0,504.8 L501.5,505.5 L502.0,506.2 L502.5,506.9 L502.9,507.6 L503.4,508.3 L503.9,509.0 L504.4,509.8 L504.9,510.5 L505.4,511.2 L505.9,511.9 L506.3,512.6 L506.8,513.4 L507.3,514.1 L507.8,514.8 L508.3,515.5 L508.8,516.2 L509.2,516.9 L509.7,517.6 L510.2,518.3 L510.7,519.0 L511.2,519.7 L511.7,520.4 L512.2,521.1 L512.7,521.8 L513.3,522.5 L513.8,523.2 L514.3,523.9 L514.8,524.5 L515.4,525.2 L515.9,525.9 L516.5,526.5 L517.0,527.2 L517.6,527.8 L518.2,528.5 L518.8,529.1 L519.3,529.7 L519.9,530.4 L520.6,531.0 L521.2,531.6 L521.8,532.2 L522.4,532.8 L523.1,533.4 L523.8,533.9 L524.4,534.5 L525.1,535.1 L525.8,535.6 L526.5,536.1 L527.2,536.7 L527.9,537.2 L528.7,537.7 L529.4,538.2 L530.1,538.7 L530.9,539.2 L531.7,539.6 L532.4,540.1 L533.2,540.5 L534.0,540.9 L534.8,541.3 L535.6,541.7 L536.4,542.1 L537.2,542.5 L538.0,542.9 L538.8,543.2 L539.6,543.5 L540.4,543.8 L541.2,544.1 L542.1,544.4 L542.9,544.7 L543.7,544.9 L544.6,545.2 L545.4,545.4 L546.2,545.6 L547.1,545.9 L547.9,546.1 L548.8,546.2 L549.6,546.4 L550.5,546.6 L551.3,546.8 L552.2,546.9 L553.0,547.0 L553.9,547.2 L554.7,547.3 L555.6,547.4 L556.5,547.6 L557.3,547.7 L558.2,547.8 L559.1,547.9 L559.9,548.0 L560.8,548.1 L561.7,548.1 L562.5,548.2 L563.4,548.3 L564.3,548.4 L565.1,548.5 L566.0,548.6 L566.9,548.6 L567.7,548.7 L568.6,548.8 L569.5,548.9 L570.3,548.9 L571.2,549.0 L572.1,549.1 L572.9,549.1 L573.8,549.2 L574.7,549.2 L575.6,549.3 L576.4,549.3 L577.3,549.4 L578.2,549.4 L579.0,549.5 L579.9,549.5 L580.8,549.6 L581.6,549.6 L582.5,549.7 L583.4,549.7 L584.3,549.8 L585.1,549.8 L586.0,549.8 L586.9,549.9 L587.7,549.9 L588.6,549.9 L589.5,550.0 L590.4,550.0 L591.2,550.0 L592.1,550.1 L593.0,550.1 L593.9,550.1 L594.7,550.2 L595.6,550.2 L596.5,550.2 L597.3,550.2 L598.2,550.3 L599.1,550.3 L600.0,550.3 L600.8,550.3 L601.7,550.3 L602.6,550.4 L603.5,550.4 L604.3,550.4 L605.2,550.4 L606.1,550.4 L607.0,550.5 L607.8,550.5 L608.7,550.5 L609.6,550.5 L610.4,550.5 L611.3,550.5 L612.2,550.6 L613.1,550.6 L613.9,550.6 L614.8,550.6 L615.7,550.6 L616.6,550.6 L617.4,550.7 L618.3,550.7 L619.2,550.7 L620.1,550.7 L620.9,550.7 L621.8,550.8 L622.7,550.8 L623.5,550.8 L624.4,550.8 L625.3,550.8 L626.2,550.9 L627.0,550.9 L627.9,550.9 L628.8,550.9 L629.7,550.9 L630.5,551.0 L631.4,551.0 L632.3,551.0 L633.1,551.0 L634.0,551.0 L634.9,551.1 L635.8,551.1 L636.6,551.1 L637.5,551.1 L638.4,551.1 L639.2,551.2 L640.1,551.2 L641.0,551.2 L641.9,551.2 L642.7,551.2 L643.6,551.3 L644.5,551.3 L645.4,551.3 L646.2,551.3 L647.1,551.3 L648.0,551.4 L648.8,551.4 L649.7,551.4 L650.6,551.4 L651.5,551.4 L652.3,551.5 L653.2,551.5 L654.1,551.5 L655.0,551.5 L655.8,551.5 L656.7,551.6 L657.6,551.6 L658.4,551.6 L659.3,551.6 L660.2,551.6 L661.1,551.6 L661.9,551.7 L662.8,551.7 L663.7,551.7 L664.6,551.7 L665.4,551.7 L666.3,551.7 L667.2,551.7 L668.0,551.7 L668.9,551.8 L669.8,551.8 L670.7,551.8 L671.5,551.8 L672.4,551.8 L673.3,551.8 L674.2,551.8 L675.0,551.8 L675.9,551.8 L676.0,551.8" stroke="#e114e1" stroke-width="4.2" fill="none" stroke-linejoin="round" stroke-linecap="butt"/>
<rect x="564.7" y="32.7" width="111.29999999999995" height="152.8" fill="#fff" stroke="#2a2a2a" stroke-width="1.5"/>
<path d="M570.6,46.2H631.2" stroke="#e30f10" stroke-width="4.2"/>
<text x="634.3" y="54.7" font-size="18" letter-spacing="0.15" fill="#111" stroke="#111" stroke-width="0.35">I(t)</text>
<path d="M570.6,72.3H631.2" stroke="#808080" stroke-width="4.2"/>
<text x="634.3" y="80.8" font-size="18" letter-spacing="0.15" fill="#111" stroke="#111" stroke-width="0.35">IA(t)</text>
<path d="M570.6,96.6H631.2" stroke="#0f6eb9" stroke-width="4.2"/>
<text x="634.3" y="105.1" font-size="18" letter-spacing="0.15" fill="#111" stroke="#111" stroke-width="0.35">ID(t)</text>
<path d="M570.6,122.0H631.2" stroke="#ec6d36" stroke-width="4.2"/>
<text x="634.3" y="130.5" font-size="18" letter-spacing="0.15" fill="#111" stroke="#111" stroke-width="0.35">IR(t)</text>
<path d="M570.6,146.8H631.2" stroke="#14eb1e" stroke-width="4.2"/>
<text x="634.3" y="155.3" font-size="18" letter-spacing="0.15" fill="#111" stroke="#111" stroke-width="0.35">IT(t)</text>
<path d="M570.6,172.8H631.2" stroke="#e114e1" stroke-width="4.2"/>
<text x="634.3" y="181.3" font-size="18" letter-spacing="0.15" fill="#111" stroke="#111" stroke-width="0.35">R(t)</text>
<g font-size="19.4" fill="#262626" stroke="#262626" stroke-width="0.3"><text x="4.11" y="561.40">0</text><path transform="translate(4.11,509.15) scale(0.00947,-0.00947)" d="M763 0H583V1147Q518 1085 412.5 1023Q307 961 223 930V1104Q374 1175 487 1276Q600 1377 647 1472H763Z" stroke-width="31.7"/><text x="4.11" y="456.90">2</text><text x="4.11" y="404.65">3</text><text x="4.11" y="352.40">4</text><text x="4.11" y="300.15">5</text><text x="4.11" y="247.90">6</text><text x="4.11" y="195.65">7</text><text x="4.11" y="143.40">8</text><text x="4.11" y="91.15">9</text><text x="85.13" y="582.80">2</text><text x="95.92" y="582.80">0</text><text x="157.69" y="582.80">4</text><text x="168.48" y="582.80">0</text><text x="230.24" y="582.80">6</text><text x="241.03" y="582.80">0</text><text x="302.80" y="582.80">8</text><text x="313.59" y="582.80">0</text><path transform="translate(369.96,582.80) scale(0.00947,-0.00947)" d="M763 0H583V1147Q518 1085 412.5 1023Q307 961 223 930V1104Q374 1175 487 1276Q600 1377 647 1472H763Z" stroke-width="31.7"/><text x="380.75" y="582.80">0</text><text x="391.53" y="582.80">0</text><path transform="translate(442.51,582.80) scale(0.00947,-0.00947)" d="M763 0H583V1147Q518 1085 412.5 1023Q307 961 223 930V1104Q374 1175 487 1276Q600 1377 647 1472H763Z" stroke-width="31.7"/><text x="453.30" y="582.80">2</text><text x="464.09" y="582.80">0</text><path transform="translate(515.06,582.80) scale(0.00947,-0.00947)" d="M763 0H583V1147Q518 1085 412.5 1023Q307 961 223 930V1104Q374 1175 487 1276Q600 1377 647 1472H763Z" stroke-width="31.7"/><text x="525.85" y="582.80">4</text><text x="536.64" y="582.80">0</text><path transform="translate(587.62,582.80) scale(0.00947,-0.00947)" d="M763 0H583V1147Q518 1085 412.5 1023Q307 961 223 930V1104Q374 1175 487 1276Q600 1377 647 1472H763Z" stroke-width="31.7"/><text x="598.41" y="582.80">6</text><text x="609.20" y="582.80">0</text></g>
<text x="350.4" y="612.8" font-size="21" letter-spacing="0.4" text-anchor="middle" fill="#262626" stroke="#262626" stroke-width="0.3">Time</text>
<path d="M27,18.2L35.6,26.6M35.6,18.2L27,26.6" stroke="#555" stroke-width="1.1" fill="none"/>
<g fill="#262626" stroke="#262626" stroke-width="0.3" font-size="19.6"><path transform="translate(39.6,26.6) scale(0.00957,-0.00957)" d="M763 0H583V1147Q518 1085 412.5 1023Q307 961 223 930V1104Q374 1175 487 1276Q600 1377 647 1472H763Z" stroke-width="31.3"/><text x="49.0" y="26.6">0</text></g>
<text x="63.2" y="18.0" font-size="15.7" fill="#262626" stroke="#262626" stroke-width="0.25">6</text>
</g>
</svg></div>
</body></html>
